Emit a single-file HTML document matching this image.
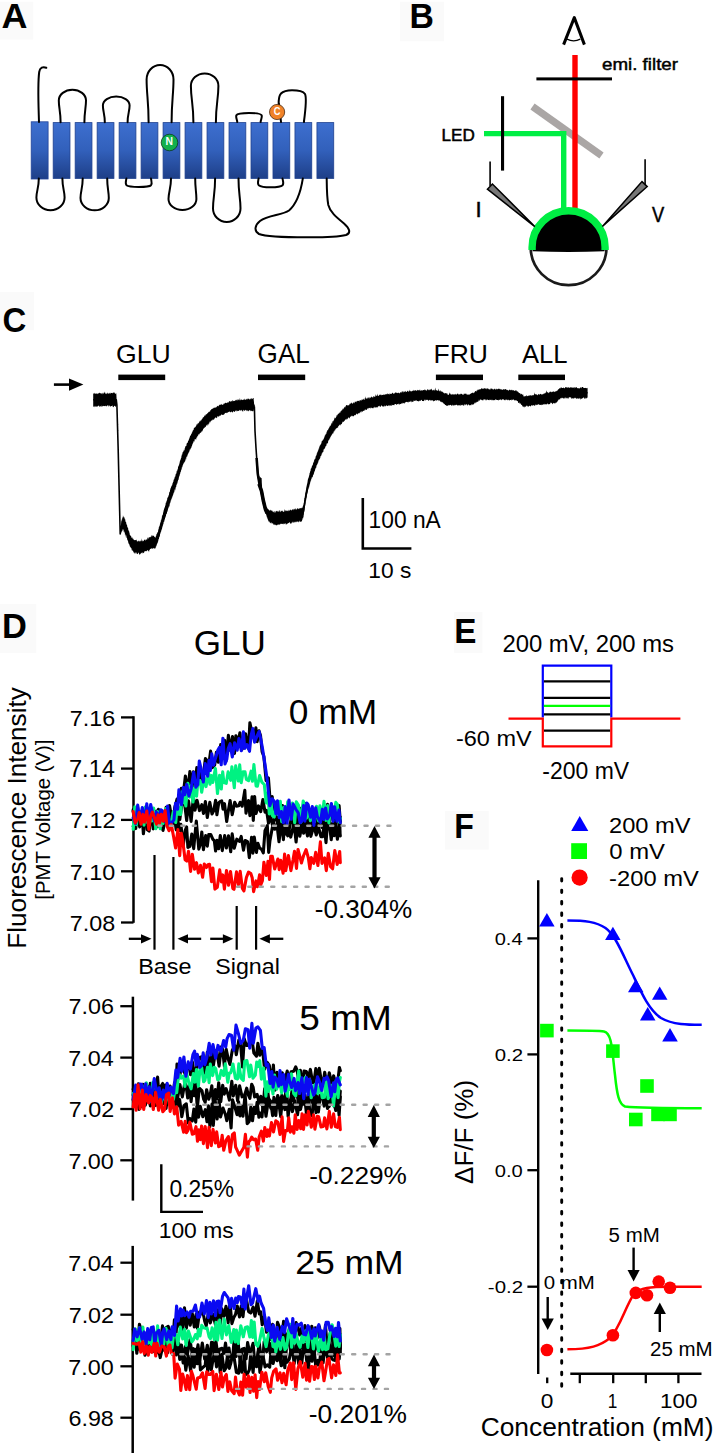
<!DOCTYPE html>
<html><head><meta charset="utf-8"><style>
html,body{margin:0;padding:0;background:#fff;}
svg{display:block;}
text{font-family:"Liberation Sans", sans-serif;}
</style></head><body>
<svg width="714" height="1453" viewBox="0 0 714 1453" font-family="&quot;Liberation Sans&quot;, sans-serif">
<defs>
<linearGradient id="tm" x1="0" y1="0" x2="0" y2="1">
<stop offset="0" stop-color="#3d6fcf"/><stop offset="0.5" stop-color="#3260bb"/><stop offset="1" stop-color="#1e3f88"/>
</linearGradient>
</defs>
<rect width="714" height="1453" fill="#fff"/>
<rect x="0" y="1.7" width="33.2" height="37.8" fill="#fafafa"/>
<text x="1.50" y="27.70" font-size="35.22" font-weight="bold" fill="#000" textLength="25.98" lengthAdjust="spacingAndGlyphs">A</text>
<rect x="400" y="1.7" width="43.9" height="39.5" fill="#fafafa"/>
<text x="409.60" y="27.70" font-size="35.51" font-weight="bold" fill="#000" textLength="24.39" lengthAdjust="spacingAndGlyphs">B</text>
<rect x="0" y="292" width="34.0" height="38.3" fill="#fafafa"/>
<text x="2.48" y="331.50" font-size="35.29" font-weight="bold" fill="#000" textLength="23.82" lengthAdjust="spacingAndGlyphs">C</text>
<rect x="0" y="604" width="36.3" height="49.0" fill="#fafafa"/>
<text x="2.06" y="637.60" font-size="34.64" font-weight="bold" fill="#000" textLength="24.89" lengthAdjust="spacingAndGlyphs">D</text>
<rect x="454.1" y="612.1" width="28.3" height="40.8" fill="#fafafa"/>
<text x="454.14" y="642.60" font-size="35.65" font-weight="bold" fill="#000" textLength="22.20" lengthAdjust="spacingAndGlyphs">E</text>
<rect x="445" y="810.9" width="43.7" height="38.6" fill="#fafafa"/>
<text x="454.31" y="838.20" font-size="35.36" font-weight="bold" fill="#000" textLength="19.64" lengthAdjust="spacingAndGlyphs">F</text>
<rect x="31.20" y="121.8" width="16.9" height="57.2" fill="url(#tm)" stroke="#23459a" stroke-width="0.8"/>
<rect x="53.18" y="122.6" width="16.8" height="55.8" fill="url(#tm)" stroke="#1f418f" stroke-width="0.8"/>
<rect x="75.16" y="122.6" width="16.8" height="55.8" fill="url(#tm)" stroke="#1f418f" stroke-width="0.8"/>
<rect x="97.14" y="122.6" width="16.8" height="55.8" fill="url(#tm)" stroke="#1f418f" stroke-width="0.8"/>
<rect x="119.12" y="122.6" width="16.8" height="55.8" fill="url(#tm)" stroke="#1f418f" stroke-width="0.8"/>
<rect x="141.10" y="122.6" width="16.8" height="55.8" fill="url(#tm)" stroke="#1f418f" stroke-width="0.8"/>
<rect x="163.08" y="122.6" width="16.8" height="55.8" fill="url(#tm)" stroke="#1f418f" stroke-width="0.8"/>
<rect x="185.06" y="122.6" width="16.8" height="55.8" fill="url(#tm)" stroke="#1f418f" stroke-width="0.8"/>
<rect x="207.04" y="122.6" width="16.8" height="55.8" fill="url(#tm)" stroke="#1f418f" stroke-width="0.8"/>
<rect x="229.02" y="122.6" width="16.8" height="55.8" fill="url(#tm)" stroke="#1f418f" stroke-width="0.8"/>
<rect x="251.00" y="122.6" width="16.8" height="55.8" fill="url(#tm)" stroke="#1f418f" stroke-width="0.8"/>
<rect x="272.98" y="122.6" width="16.8" height="55.8" fill="url(#tm)" stroke="#1f418f" stroke-width="0.8"/>
<rect x="294.96" y="122.6" width="16.8" height="55.8" fill="url(#tm)" stroke="#1f418f" stroke-width="0.8"/>
<rect x="316.94" y="122.6" width="16.8" height="55.8" fill="url(#tm)" stroke="#1f418f" stroke-width="0.8"/>
<path d="M39,122 C38.5,105 37.5,85 39.2,72 C39.8,67.5 43,66.5 46.3,67.8" fill="none" stroke="#000" stroke-width="2" stroke-linecap="round"/>
<path d="M60.6,122.3 C60.6,111.4 58.8,108.1 58.8,100.5 C58.8,94.5 64.9,89.7 72.4,89.7 C79.9,89.7 86.0,94.5 86.0,100.5 C86.0,108.1 84.4,111.4 84.4,122.3" fill="none" stroke="#000" stroke-width="2" stroke-linecap="round"/>
<path d="M104.8,122.3 C104.8,113.9 102.9,111.4 102.9,105.5 C102.9,100.5 108.9,96.5 116.2,96.5 C123.6,96.5 129.6,100.5 129.6,105.5 C129.6,111.4 127.6,113.9 127.6,122.3" fill="none" stroke="#000" stroke-width="2" stroke-linecap="round"/>
<path d="M148.6,122.3 C148.6,100.9 146.6,94.5 146.6,79.5 C146.6,71.5 152.6,65.0 160.1,65.0 C167.5,65.0 173.5,71.5 173.5,79.5 C173.5,94.5 171.6,100.9 171.6,122.3" fill="none" stroke="#000" stroke-width="2" stroke-linecap="round"/>
<path d="M193.4,122.3 C193.4,104.2 190.9,98.7 190.9,86.0 C190.9,79.0 197.1,73.4 204.7,73.4 C212.2,73.4 218.4,79.0 218.4,86.0 C218.4,98.7 215.9,104.2 215.9,122.3" fill="none" stroke="#000" stroke-width="2" stroke-linecap="round"/>
<path d="M237.3,122 C236.8,119 235.6,117 236.4,115.2 C237.5,113.2 243,113 249,113 C255,113 260.5,113.2 261.6,115.2 C262.4,117 261,119 260.6,122" fill="none" stroke="#000" stroke-width="2" stroke-linecap="round"/>
<path d="M281,122 L279,104" fill="none" stroke="#000" stroke-width="2" stroke-linecap="round"/>
<path d="M278.7,105 C278.5,100 278.6,96 281,93.5 C283.5,91 287,90.3 292,90.3 C298,90.3 303,91.2 305,94 C306.5,97 305.5,110 303.9,122" fill="none" stroke="#000" stroke-width="2" stroke-linecap="round"/>
<path d="M38.8,178.6 C38.8,188.1 36.4,190.9 36.4,197.5 C36.4,204.6 42.7,210.3 50.5,210.3 C58.3,210.3 64.6,204.6 64.6,197.5 C64.6,190.9 62.4,188.1 62.4,178.6" fill="none" stroke="#000" stroke-width="2" stroke-linecap="round"/>
<path d="M82.7,178.6 C82.7,188.3 80.5,191.2 80.5,198.0 C80.5,204.8 86.8,210.3 94.7,210.3 C102.5,210.3 108.8,204.8 108.8,198.0 C108.8,191.2 107.2,188.3 107.2,178.6" fill="none" stroke="#000" stroke-width="2" stroke-linecap="round"/>
<path d="M126.4,178.6 C126,181 125,183.5 126.5,185.2 C128.5,186.8 133,186.9 138.7,186.9 C144.5,186.9 149.5,186.8 151,185.2 C152.4,183.5 151.4,181 151,178.6" fill="none" stroke="#000" stroke-width="2" stroke-linecap="round"/>
<path d="M171.0,178.6 C171.0,188.8 168.5,191.9 168.5,199.0 C168.5,205.1 174.7,210.0 182.4,210.0 C190.2,210.0 196.4,205.1 196.4,199.0 C196.4,191.9 195.2,188.8 195.2,178.6" fill="none" stroke="#000" stroke-width="2" stroke-linecap="round"/>
<path d="M215.1,178.6 C215.1,193.6 213.0,198.0 213.0,208.5 C213.0,216.0 219.2,222.0 226.8,222.0 C234.3,222.0 240.5,216.0 240.5,208.5 C240.5,198.0 238.5,193.6 238.5,178.6" fill="none" stroke="#000" stroke-width="2" stroke-linecap="round"/>
<path d="M258.6,178.6 C258.2,181 257.2,183.5 258.7,185.2 C260.7,186.8 265,187.3 270.6,187.3 C276.4,187.3 281,186.8 282.6,185.2 C284,183.5 283,181 282.5,178.6" fill="none" stroke="#000" stroke-width="2" stroke-linecap="round"/>
<path d="M302.8,178.6 C301,190 297.5,203 289,210.5 C282,215.5 268,214.5 260,221 C255,225 253.5,231 259,234 C268,237.5 290,237.3 310,237.3 C325,237.3 340,236.5 346,235 C351,233 350,229 344,223.5 C336,217 330,212 328.3,205 C326.8,197 326.8,188 326.7,178.6" fill="none" stroke="#000" stroke-width="2" stroke-linecap="round"/>
<circle cx="169.5" cy="142.5" r="8.3" fill="#12b04c" stroke="#0a3a1a" stroke-width="0.8"/>
<text x="165.43" y="145.00" font-size="10.00" font-weight="bold" fill="#fff" textLength="7.47" lengthAdjust="spacingAndGlyphs">N</text>
<circle cx="277.1" cy="112" r="7.6" fill="#f08228" stroke="#4a2a10" stroke-width="0.8"/>
<text x="273.83" y="115.20" font-size="11.00" font-weight="bold" fill="#fff" textLength="6.73" lengthAdjust="spacingAndGlyphs">C</text>
<line x1="532.5" y1="106.5" x2="601.5" y2="155.5" stroke="#aaa6a5" stroke-width="7.2"/>
<path d="M484,133.6 H563.7 V212" fill="none" stroke="#00ee44" stroke-width="5.4"/>
<rect x="572.3" y="55" width="5.4" height="160" fill="#ff0000"/>
<rect x="536.4" y="77.4" width="75.6" height="3" fill="#000"/>
<rect x="501" y="96.2" width="3.1" height="74.4" fill="#000"/>
<path d="M563.6,44.6 L574.3,17.6 L584.4,44.6" fill="none" stroke="#000" stroke-width="3" stroke-linejoin="round"/>
<path d="M567,39.2 Q573.6,42.6 580.3,39.2" fill="none" stroke="#000" stroke-width="1.3"/>
<circle cx="568.6" cy="247.3" r="37.9" fill="#fff" stroke="#1a1a1a" stroke-width="2.7"/>
<path d="M532.6,251.3 L532.6,247.3 A36,36 0 0 1 604.6,247.3 L604.6,251.3 Q568.6,252.8 532.6,251.3 Z" fill="#000"/>
<path d="M532.1,249.9 L532.1,247.3 A36.5,36.5 0 0 1 605.1,247.3 L605.1,249.9" fill="none" stroke="#00ee44" stroke-width="7.4"/>
<line x1="490.1" y1="161.4" x2="490.1" y2="186" stroke="#000" stroke-width="1.6"/>
<path d="M487.4,189.2 L492.4,184 L534.8,226.6 Z" fill="#777" stroke="#000" stroke-width="1.5" stroke-linejoin="miter"/>
<line x1="645.1" y1="159.2" x2="645.1" y2="185" stroke="#000" stroke-width="1.6"/>
<path d="M642,181.6 L647.2,186.6 L602.4,226.4 Z" fill="#777" stroke="#000" stroke-width="1.5" stroke-linejoin="miter"/>
<text x="602.05" y="69.90" font-size="16.14" font-weight="normal" fill="#000" textLength="75.95" lengthAdjust="spacingAndGlyphs" stroke="#000" stroke-width="0.45">emi. filter</text>
<text x="441.53" y="140.60" font-size="16.38" font-weight="normal" fill="#000" textLength="33.24" lengthAdjust="spacingAndGlyphs" stroke="#000" stroke-width="0.5">LED</text>
<text x="475.61" y="216.60" font-size="22.32" font-weight="normal" fill="#000" textLength="6.14" lengthAdjust="spacingAndGlyphs" stroke="#000" stroke-width="0.5">I</text>
<text x="652.11" y="222.00" font-size="21.88" font-weight="normal" fill="#000" textLength="12.22" lengthAdjust="spacingAndGlyphs" stroke="#000" stroke-width="0.5">V</text>
<polygon points="93.20,393.09 93.64,393.94 94.09,392.78 94.53,393.23 94.98,394.23 95.42,393.54 95.87,393.44 96.31,394.10 96.75,392.92 97.20,394.19 97.64,393.62 98.09,393.37 98.53,393.54 98.97,393.22 99.42,392.91 99.86,392.47 100.31,393.84 100.75,393.10 101.20,393.00 101.64,393.82 102.08,394.42 102.53,392.43 102.97,393.81 103.42,393.78 103.86,392.60 104.31,393.23 104.75,391.48 105.19,392.84 105.64,394.36 106.08,392.98 106.53,393.66 106.97,394.24 107.42,393.07 107.86,392.52 108.30,394.00 108.75,393.13 109.19,393.81 109.64,392.90 110.08,392.42 110.53,393.98 110.97,392.72 111.41,393.08 111.86,393.03 112.30,392.74 112.75,393.55 113.19,392.87 113.63,392.62 114.08,392.24 114.52,392.68 114.97,393.62 115.41,393.44 115.86,394.12 116.30,392.99 116.35,394.74 116.40,394.66 116.45,396.60 116.50,397.11 116.55,398.27 116.60,398.98 116.65,400.32 116.70,401.23 116.75,401.81 116.80,402.80 116.85,403.83 116.90,404.77 116.91,405.26 116.93,405.67 116.94,406.16 116.95,406.55 116.96,407.02 116.98,407.47 116.99,407.89 117.00,408.35 117.02,408.79 117.03,409.28 117.04,409.71 117.05,410.17 117.07,410.61 117.08,411.06 117.09,411.46 117.11,411.95 117.12,412.39 117.13,412.82 117.14,413.24 117.16,413.68 117.17,414.14 117.18,414.62 117.20,415.04 117.21,415.48 117.22,415.97 117.23,416.37 117.25,416.84 117.26,417.27 117.27,417.71 117.29,418.16 117.30,418.61 117.31,419.05 117.32,419.52 117.34,419.95 117.35,420.42 117.36,420.84 117.38,421.28 117.39,421.71 117.40,422.18 117.41,422.65 117.43,423.07 117.44,423.53 117.45,423.94 117.47,424.41 117.48,424.86 117.49,425.27 117.50,425.75 117.52,426.20 117.53,426.64 117.54,427.08 117.56,427.55 117.57,427.97 117.58,428.39 117.60,428.86 117.61,429.29 117.62,429.72 117.63,430.17 117.65,430.63 117.66,431.07 117.67,431.51 117.69,431.99 117.70,432.42 117.71,432.88 117.72,433.33 117.74,433.76 117.75,434.22 117.76,434.64 117.78,435.09 117.79,435.57 117.80,435.99 117.81,436.44 117.83,436.87 117.84,437.35 117.85,437.79 117.87,438.22 117.88,438.67 117.89,439.10 117.90,439.56 117.92,440.02 117.93,440.42 117.94,440.91 117.96,441.36 117.97,441.79 117.98,442.24 117.99,442.69 118.01,443.11 118.02,443.53 118.03,444.03 118.05,444.46 118.06,444.89 118.07,445.32 118.08,445.76 118.10,446.26 118.11,446.68 118.12,447.10 118.14,447.60 118.15,448.01 118.16,448.48 118.17,448.89 118.19,449.33 118.20,449.80 118.21,450.28 118.22,450.72 118.23,451.15 118.24,451.57 118.25,452.05 118.26,452.47 118.27,452.94 118.29,453.39 118.30,453.81 118.31,454.28 118.32,454.73 118.33,455.15 118.34,455.61 118.35,456.04 118.36,456.50 118.37,456.98 118.38,457.40 118.39,457.82 118.40,458.29 118.41,458.71 118.42,459.23 118.44,459.65 118.45,460.06 118.46,460.51 118.47,460.97 118.48,461.41 118.49,461.84 118.50,462.30 118.51,462.76 118.52,463.21 118.53,463.64 118.54,464.12 118.55,464.54 118.56,464.99 118.57,465.42 118.59,465.90 118.60,466.38 118.61,466.78 118.62,467.20 118.63,467.67 118.64,468.12 118.65,468.59 118.66,469.04 118.67,469.45 118.68,469.96 118.69,470.33 118.70,470.78 118.71,471.21 118.72,471.74 118.73,472.19 118.75,472.56 118.76,473.06 118.77,473.52 118.78,473.95 118.79,474.37 118.80,474.87 118.81,475.28 118.82,475.71 118.83,476.15 118.84,476.67 118.85,477.04 118.86,477.52 118.87,477.97 118.88,478.41 118.90,478.88 118.91,479.26 118.92,479.78 118.93,480.20 118.94,480.68 118.95,481.08 118.96,481.50 118.97,481.94 118.98,482.48 118.99,482.87 119.00,483.28 119.01,483.81 119.02,484.23 119.03,484.65 119.04,485.09 119.06,485.57 119.07,486.00 119.08,486.44 119.09,486.92 119.10,487.33 119.11,487.79 119.12,488.22 119.13,488.69 119.14,489.16 119.15,489.60 119.16,489.98 119.17,490.52 119.18,490.97 119.19,491.44 119.21,491.78 119.22,492.21 119.23,492.75 119.24,493.20 119.25,493.65 119.26,494.05 119.27,494.51 119.28,494.91 119.29,495.44 119.30,495.80 119.31,496.30 119.32,496.70 119.33,497.15 119.34,497.58 119.36,498.08 119.37,498.51 119.38,498.97 119.39,499.47 119.40,499.87 119.41,500.26 119.42,500.71 119.43,501.28 119.44,501.64 119.45,502.13 119.46,502.61 119.47,503.05 119.48,503.40 119.49,503.83 119.50,504.34 119.52,504.81 119.53,505.23 119.54,505.63 119.55,506.09 119.56,506.64 119.57,507.07 119.58,507.41 119.59,507.92 119.60,508.34 119.61,508.77 119.62,509.24 119.63,509.67 119.64,510.15 119.65,510.64 119.67,511.10 119.68,511.42 119.69,512.02 119.70,512.36 119.71,512.77 119.72,513.33 119.73,513.80 119.74,514.19 119.75,514.65 119.76,515.08 119.77,515.53 119.78,515.89 119.79,516.47 119.80,516.78 119.81,517.38 119.83,517.68 119.84,518.23 119.85,518.61 119.86,519.18 119.87,519.55 119.88,519.96 119.89,520.41 119.90,520.83 119.91,521.39 119.92,521.79 119.93,522.20 119.94,522.75 119.95,523.06 119.96,523.58 119.98,524.06 119.99,524.51 120.00,524.88 120.01,525.43 120.02,525.85 120.03,526.28 120.04,526.74 120.05,527.10 120.06,527.57 120.07,527.96 120.08,528.45 120.09,528.97 120.10,529.41 120.11,529.89 120.13,530.32 120.14,530.70 120.15,531.12 120.16,531.65 120.17,532.09 120.18,532.45 120.19,532.87 120.20,533.48 120.26,532.81 120.33,531.88 120.39,531.26 120.45,530.59 120.51,529.75 120.58,528.94 120.64,528.76 120.70,527.29 120.76,526.54 120.83,526.36 120.89,525.60 120.95,525.13 121.01,524.02 121.08,523.84 121.14,522.66 121.20,521.35 121.36,521.40 121.53,520.26 121.69,520.80 121.85,518.93 122.02,519.76 122.18,519.01 122.35,517.42 122.51,517.68 122.67,517.49 122.84,516.99 123.00,514.84 123.18,516.95 123.37,517.24 123.55,515.63 123.73,516.37 123.92,517.67 124.10,517.15 124.28,517.30 124.47,517.86 124.65,518.50 124.83,519.18 125.02,519.57 125.20,518.93 125.34,520.39 125.49,521.80 125.63,522.25 125.78,521.54 125.92,521.68 126.06,522.35 126.21,522.54 126.35,523.94 126.49,524.21 126.64,524.88 126.78,525.08 126.92,524.11 127.07,524.98 127.21,526.86 127.36,527.17 127.50,526.55 127.65,527.66 127.80,528.22 127.95,527.36 128.10,527.97 128.25,529.79 128.40,530.37 128.55,530.13 128.70,530.41 128.85,531.31 129.00,531.26 129.15,531.54 129.30,531.71 129.45,533.28 129.60,532.94 129.75,534.53 129.90,534.95 130.05,535.41 130.20,535.74 130.45,534.79 130.71,535.92 130.96,536.01 131.21,536.43 131.47,537.24 131.72,537.89 131.97,537.96 132.23,536.96 132.48,538.32 132.73,538.49 132.99,539.14 133.24,538.52 133.49,538.93 133.75,539.90 134.00,539.99 134.43,540.30 134.86,540.04 135.29,540.09 135.71,540.22 136.14,539.65 136.57,539.65 137.00,541.55 137.43,540.99 137.86,541.76 138.29,541.18 138.71,540.41 139.14,540.75 139.57,541.07 140.00,542.13 140.40,540.55 140.80,540.83 141.20,541.33 141.60,538.30 142.00,541.61 142.40,541.20 142.80,539.89 143.20,541.23 143.60,540.94 144.00,540.10 144.40,539.57 144.80,539.69 145.20,540.63 145.60,540.05 146.00,539.10 146.38,539.57 146.75,539.64 147.12,539.79 147.50,537.75 147.88,537.53 148.25,539.03 148.62,537.82 149.00,536.89 149.38,537.08 149.75,537.68 150.12,536.73 150.50,537.56 150.88,536.58 151.25,536.82 151.62,535.37 152.00,535.16 152.44,535.52 152.88,536.42 153.31,535.74 153.75,535.54 154.19,536.83 154.62,536.68 155.06,537.47 155.50,537.69 155.67,536.23 155.83,537.01 156.00,535.68 156.17,536.15 156.33,534.81 156.50,534.28 156.67,533.58 156.83,534.15 157.00,533.77 157.17,533.37 157.33,532.47 157.50,531.96 157.67,532.70 157.83,531.97 158.00,532.04 158.12,531.30 158.24,530.03 158.36,529.25 158.48,528.74 158.60,529.84 158.71,528.84 158.83,527.60 158.95,526.83 159.07,527.61 159.19,526.44 159.31,525.86 159.43,526.65 159.55,525.58 159.67,525.78 159.79,525.28 159.90,524.24 160.02,524.28 160.14,522.88 160.26,523.21 160.38,523.10 160.50,521.87 160.63,522.07 160.76,521.97 160.88,519.86 161.01,520.86 161.14,520.50 161.27,519.43 161.40,519.84 161.53,517.97 161.65,518.81 161.78,518.43 161.91,516.28 162.04,516.65 162.17,515.44 162.29,515.05 162.42,514.90 162.55,515.76 162.68,514.16 162.81,514.79 162.94,514.45 163.06,512.42 163.19,512.99 163.32,511.70 163.45,511.66 163.58,510.72 163.71,510.55 163.83,509.45 163.96,509.96 164.09,508.78 164.22,508.39 164.35,508.39 164.47,508.10 164.60,507.80 164.73,506.92 164.86,507.36 164.99,506.43 165.12,505.56 165.24,505.79 165.37,505.52 165.50,505.29 165.64,503.46 165.78,502.89 165.91,502.55 166.05,502.38 166.19,502.16 166.32,502.85 166.46,500.75 166.60,501.15 166.74,500.30 166.88,501.02 167.01,499.33 167.15,500.12 167.29,498.04 167.43,498.12 167.56,498.06 167.70,497.39 167.84,496.97 167.97,496.85 168.11,497.27 168.25,496.45 168.39,496.01 168.53,495.84 168.66,494.90 168.80,495.20 168.94,494.85 169.07,493.79 169.21,492.01 169.35,492.13 169.49,492.32 169.62,492.37 169.76,492.11 169.90,491.07 170.04,490.16 170.18,489.37 170.31,489.70 170.45,488.47 170.59,488.13 170.72,487.62 170.86,488.27 171.00,487.57 171.15,485.87 171.31,486.48 171.46,487.19 171.61,485.88 171.76,486.10 171.91,485.03 172.07,485.22 172.22,485.18 172.37,483.88 172.53,483.45 172.68,482.79 172.83,483.24 172.98,482.04 173.13,482.04 173.29,482.07 173.44,480.97 173.59,480.01 173.75,480.35 173.90,479.08 174.05,478.50 174.20,479.69 174.35,478.85 174.51,478.29 174.66,477.23 174.81,477.03 174.97,476.44 175.12,477.05 175.27,476.18 175.42,476.03 175.57,474.39 175.73,474.10 175.88,474.47 176.03,472.86 176.19,473.98 176.34,473.80 176.49,472.64 176.64,471.61 176.79,470.61 176.95,471.10 177.10,471.46 177.23,470.08 177.36,470.87 177.49,468.78 177.62,469.39 177.75,469.43 177.88,468.91 178.01,467.08 178.14,466.49 178.27,467.58 178.40,465.46 178.53,465.33 178.66,466.01 178.79,466.17 178.92,465.55 179.05,464.53 179.18,464.59 179.31,464.22 179.44,463.61 179.57,461.93 179.70,463.26 179.83,461.00 179.96,461.57 180.09,460.54 180.22,460.60 180.35,459.27 180.48,460.44 180.61,459.87 180.74,458.92 180.87,458.50 181.00,458.45 181.13,458.08 181.26,458.11 181.39,456.84 181.52,455.73 181.65,455.24 181.78,455.76 181.91,454.16 182.04,453.77 182.17,454.70 182.30,454.70 182.49,452.79 182.67,452.16 182.86,452.36 183.04,451.30 183.23,451.90 183.41,450.04 183.60,451.92 183.78,450.89 183.97,449.33 184.15,450.63 184.34,450.15 184.52,449.95 184.71,448.58 184.90,447.95 185.08,447.69 185.27,446.56 185.45,446.56 185.64,446.24 185.82,445.90 186.01,445.69 186.19,446.18 186.38,445.72 186.56,444.18 186.75,442.89 186.93,443.83 187.12,442.94 187.30,442.63 187.49,442.96 187.68,442.50 187.86,442.35 188.05,440.86 188.23,440.33 188.42,441.14 188.60,440.45 188.79,440.29 188.97,438.92 189.16,439.16 189.34,437.56 189.53,438.41 189.71,437.21 189.90,436.82 190.08,435.79 190.26,435.86 190.44,435.03 190.62,435.36 190.80,436.17 190.99,435.12 191.17,433.87 191.35,434.30 191.53,433.26 191.71,433.98 191.89,432.50 192.07,432.65 192.25,431.11 192.43,432.51 192.61,431.53 192.80,430.31 192.98,430.68 193.16,430.15 193.34,430.02 193.52,430.10 193.70,429.26 193.97,427.80 194.25,427.69 194.52,428.27 194.80,427.21 195.07,426.63 195.35,426.28 195.62,427.42 195.90,426.87 196.18,424.96 196.45,425.96 196.72,423.66 197.00,424.59 197.28,423.78 197.55,425.00 197.82,422.99 198.10,422.77 198.38,423.67 198.65,422.41 198.93,423.45 199.20,421.44 199.48,421.98 199.75,421.01 200.03,420.57 200.30,421.71 200.59,419.75 200.88,420.91 201.17,420.49 201.47,419.60 201.76,419.66 202.05,418.59 202.34,419.14 202.63,417.99 202.92,417.41 203.21,416.71 203.50,417.45 203.80,417.34 204.09,416.47 204.38,416.01 204.67,415.18 204.96,415.49 205.25,415.45 205.54,415.39 205.83,414.27 206.13,414.11 206.42,414.84 206.71,414.09 207.00,414.02 207.33,413.14 207.67,413.07 208.00,413.21 208.33,412.26 208.67,411.75 209.00,412.06 209.33,410.89 209.67,411.94 210.00,411.75 210.33,410.30 210.67,410.29 211.00,409.68 211.33,409.08 211.67,409.57 212.00,408.75 212.33,408.78 212.67,408.75 213.00,408.49 213.38,407.44 213.75,408.38 214.13,408.05 214.51,407.77 214.88,407.29 215.26,408.10 215.64,406.88 216.01,407.75 216.39,406.96 216.76,406.66 217.14,406.25 217.52,406.05 217.89,405.80 218.27,406.59 218.65,405.88 219.02,404.99 219.40,405.34 219.82,404.50 220.23,404.83 220.65,404.64 221.07,404.31 221.49,403.65 221.90,405.15 222.32,404.81 222.74,404.71 223.16,404.36 223.57,404.53 223.99,402.75 224.41,404.01 224.83,403.32 225.24,402.49 225.66,403.03 226.08,403.26 226.50,403.03 226.91,402.67 227.33,402.71 227.75,402.29 228.17,402.24 228.58,402.65 229.00,401.18 229.43,400.94 229.87,401.53 230.30,402.23 230.74,400.79 231.17,401.62 231.61,400.75 232.04,401.63 232.48,400.42 232.91,399.93 233.35,401.31 233.78,401.11 234.22,400.94 234.65,400.93 235.09,400.35 235.52,399.80 235.96,401.25 236.39,399.81 236.83,399.72 237.26,400.71 237.70,399.34 238.13,399.43 238.57,399.61 239.00,400.57 239.44,399.95 239.88,397.94 240.33,399.69 240.77,400.50 241.21,399.25 241.65,399.82 242.10,400.11 242.54,399.85 242.98,400.24 243.42,399.75 243.87,399.32 244.31,398.54 244.75,400.04 245.19,399.64 245.64,399.67 246.08,399.34 246.52,399.52 246.96,398.49 247.41,399.72 247.85,398.20 248.29,399.27 248.73,398.14 249.18,399.30 249.62,399.73 250.06,398.29 250.50,399.52 250.95,398.38 251.39,398.08 251.83,399.29 252.27,399.06 252.72,398.56 253.16,397.93 253.60,397.92 253.73,399.97 253.87,401.21 254.00,402.34 254.13,404.24 254.27,405.18 254.40,406.67 254.41,407.17 254.42,407.57 254.43,408.01 254.44,408.46 254.46,408.96 254.47,409.40 254.48,409.83 254.49,410.28 254.50,410.68 254.51,411.10 254.52,411.56 254.53,411.97 254.54,412.45 254.56,412.90 254.57,413.38 254.58,413.73 254.59,414.21 254.60,414.62 254.61,415.06 254.62,415.60 254.63,415.98 254.64,416.44 254.66,416.85 254.67,417.37 254.68,417.75 254.69,418.20 254.70,418.66 254.71,419.13 254.72,419.51 254.73,420.03 254.74,420.44 254.76,420.92 254.77,421.33 254.78,421.78 254.79,422.18 254.80,422.61 254.81,423.05 254.82,423.53 254.83,423.93 254.84,424.38 254.86,424.84 254.87,425.26 254.88,425.67 254.89,426.18 254.90,426.56 254.91,427.04 254.92,427.52 254.93,427.95 254.94,428.37 254.96,428.85 254.97,429.22 254.98,429.73 254.99,430.14 255.00,430.55 255.03,431.00 255.05,431.47 255.08,431.91 255.11,432.35 255.13,432.81 255.16,433.28 255.18,433.66 255.21,434.20 255.24,434.65 255.26,435.07 255.29,435.53 255.32,435.87 255.34,436.38 255.37,436.77 255.39,437.26 255.42,437.76 255.45,438.11 255.47,438.55 255.50,439.10 255.53,439.46 255.55,439.93 255.58,440.43 255.61,440.85 255.63,441.24 255.66,441.77 255.68,442.15 255.71,442.60 255.74,443.05 255.76,443.55 255.79,443.89 255.82,444.38 255.84,444.80 255.87,445.26 255.89,445.75 255.92,446.13 255.95,446.63 255.97,446.99 256.00,447.51 256.03,447.99 256.06,448.39 256.09,448.85 256.12,449.20 256.16,449.75 256.19,450.09 256.22,450.68 256.25,451.11 256.28,451.52 256.31,451.89 256.34,452.36 256.37,452.83 256.40,453.28 256.43,453.64 256.47,454.20 256.50,454.54 256.53,455.06 256.56,455.44 256.59,455.86 256.62,456.38 256.65,456.86 256.68,457.30 256.71,457.74 256.74,458.22 256.78,458.59 256.81,458.99 256.84,459.49 256.87,459.81 256.90,460.26 256.93,460.74 256.96,461.17 256.99,461.72 257.02,462.07 257.06,462.66 257.09,463.11 257.12,463.55 257.15,463.94 257.18,464.29 257.21,464.89 257.24,465.25 257.27,465.65 257.30,466.03 257.33,466.54 257.37,467.06 257.40,467.54 257.43,467.88 257.46,468.25 257.49,468.69 257.52,469.18 257.55,469.73 257.58,470.20 257.61,470.65 257.64,471.04 257.68,471.42 257.71,471.96 257.74,472.28 257.77,472.80 257.80,473.13 257.87,473.61 257.95,473.96 258.02,474.52 258.10,474.85 258.17,475.18 258.24,475.84 258.32,475.99 258.39,476.51 258.47,476.80 258.54,477.44 258.61,477.79 258.69,478.15 258.76,478.60 258.83,479.00 258.91,479.34 258.98,479.99 259.06,480.22 259.13,480.73 259.20,480.98 259.28,481.38 259.35,481.99 259.43,482.44 259.50,482.65 259.62,483.02 259.74,483.47 259.85,483.80 259.97,484.17 260.09,484.75 260.21,485.19 260.32,485.71 260.44,485.93 260.56,486.42 260.68,486.58 260.79,487.02 260.91,487.25 261.03,487.76 261.15,488.36 261.26,488.69 261.38,489.01 261.50,489.38 261.58,489.58 261.66,490.14 261.75,490.71 261.83,491.14 261.91,491.38 261.99,492.06 262.07,492.26 262.15,492.41 262.24,492.79 262.32,493.41 262.40,493.82 262.48,494.36 262.56,494.60 262.65,495.09 262.73,495.37 262.81,495.58 262.89,496.11 262.97,496.92 263.05,495.38 263.14,497.36 263.22,497.57 263.30,498.23 263.40,498.42 263.51,499.20 263.61,499.60 263.72,499.39 263.82,499.83 263.93,500.54 264.03,500.60 264.14,501.11 264.24,501.35 264.35,501.89 264.45,502.16 264.56,502.28 264.66,503.13 264.77,503.20 264.87,503.34 264.98,504.64 265.08,504.79 265.19,505.05 265.29,505.19 265.40,505.68 265.50,505.50 265.70,506.60 265.90,506.70 266.10,507.24 266.30,507.36 266.50,507.03 266.70,508.05 266.90,506.97 267.10,507.47 267.30,508.76 267.50,507.85 267.70,509.21 267.90,508.77 268.10,509.55 268.30,509.88 268.50,509.44 268.89,508.92 269.27,510.63 269.66,510.55 270.05,510.17 270.43,509.40 270.82,510.73 271.21,509.88 271.59,510.70 271.98,511.04 272.37,510.56 272.75,511.89 273.14,511.36 273.53,512.55 273.91,511.69 274.30,510.85 274.74,512.76 275.18,512.66 275.63,511.62 276.07,510.82 276.51,511.57 276.95,510.68 277.39,511.99 277.84,510.53 278.28,512.13 278.72,510.91 279.16,510.03 279.60,510.70 280.05,512.32 280.49,511.70 280.93,510.39 281.37,510.66 281.81,511.22 282.25,511.40 282.70,510.18 283.14,511.69 283.58,511.66 284.02,511.88 284.46,510.59 284.91,509.11 285.35,511.61 285.79,510.27 286.23,510.22 286.67,511.33 287.12,510.64 287.56,510.49 288.00,511.51 288.44,509.60 288.88,511.18 289.31,511.07 289.75,509.85 290.19,510.18 290.62,509.51 291.06,509.71 291.50,510.76 291.94,509.94 292.38,508.77 292.81,510.07 293.25,510.24 293.69,508.71 294.12,509.17 294.56,509.52 295.00,508.23 295.44,508.42 295.88,509.84 296.31,509.85 296.75,508.95 297.19,508.45 297.62,508.10 298.06,509.28 298.50,508.73 298.94,508.59 299.38,508.81 299.81,507.95 300.25,508.16 300.69,508.33 301.12,507.51 301.56,508.40 302.00,507.69 302.17,507.06 302.33,507.69 302.50,508.02 302.67,507.80 302.83,506.02 303.00,505.71 303.17,505.64 303.33,505.23 303.50,505.93 303.57,504.29 303.63,504.55 303.70,504.36 303.76,502.99 303.83,502.58 303.89,503.40 303.96,502.17 304.02,501.58 304.09,501.10 304.16,500.57 304.22,500.43 304.29,501.17 304.35,500.34 304.42,500.10 304.48,498.94 304.55,498.67 304.62,497.54 304.68,498.34 304.75,498.11 304.81,497.84 304.88,497.14 304.94,495.57 305.01,495.61 305.08,495.79 305.14,494.83 305.21,494.29 305.27,494.38 305.34,492.78 305.40,492.94 305.47,492.71 305.53,493.09 305.60,492.00 305.69,492.11 305.78,491.23 305.86,490.25 305.95,490.01 306.04,490.00 306.13,488.83 306.22,489.21 306.30,488.10 306.39,488.24 306.48,487.22 306.57,486.86 306.66,486.36 306.74,485.50 306.83,485.09 306.92,484.36 307.01,485.16 307.10,483.43 307.18,483.51 307.27,483.93 307.36,483.73 307.45,482.87 307.54,482.05 307.62,481.28 307.71,480.39 307.80,480.01 307.91,479.45 308.03,479.10 308.14,478.68 308.25,478.06 308.36,478.04 308.48,478.65 308.59,477.49 308.70,477.29 308.81,476.46 308.93,476.72 309.04,475.18 309.15,475.88 309.26,475.15 309.38,475.23 309.49,473.48 309.60,473.10 309.71,472.58 309.82,473.45 309.94,472.82 310.05,471.36 310.16,471.00 310.27,471.94 310.39,470.89 310.50,471.20 310.66,469.39 310.82,468.95 310.98,468.35 311.14,468.16 311.30,468.45 311.45,468.11 311.61,467.19 311.77,467.19 311.93,465.80 312.09,466.28 312.25,465.88 312.41,464.51 312.57,465.40 312.73,464.86 312.89,464.90 313.05,462.92 313.20,463.25 313.36,462.97 313.52,461.73 313.68,461.27 313.84,462.16 314.00,461.90 314.16,460.06 314.32,459.49 314.48,459.84 314.64,458.56 314.80,459.96 314.96,458.65 315.12,458.99 315.28,458.47 315.44,458.18 315.60,456.85 315.76,456.35 315.92,456.20 316.08,455.23 316.24,456.00 316.40,455.29 316.56,454.96 316.72,453.91 316.88,452.94 317.04,453.68 317.20,451.88 317.36,452.50 317.52,452.36 317.68,451.83 317.84,450.42 318.00,451.45 318.18,450.23 318.36,450.08 318.55,449.21 318.73,449.07 318.91,447.82 319.09,448.71 319.27,446.75 319.45,447.11 319.64,446.01 319.82,445.54 320.00,445.80 320.18,444.80 320.36,445.34 320.55,445.16 320.73,443.77 320.91,444.28 321.09,444.00 321.27,443.18 321.45,442.91 321.64,441.44 321.82,441.14 322.00,441.07 322.20,440.34 322.40,441.18 322.60,440.76 322.80,440.20 323.00,439.32 323.20,440.01 323.40,439.47 323.60,438.78 323.80,438.67 324.00,437.98 324.20,437.86 324.40,437.09 324.60,436.42 324.80,435.81 325.00,434.92 325.20,435.50 325.40,434.92 325.60,433.59 325.80,434.82 326.00,433.47 326.20,433.85 326.41,433.66 326.61,431.60 326.82,431.64 327.02,431.63 327.23,430.59 327.43,429.92 327.64,430.25 327.84,430.11 328.05,430.59 328.25,428.39 328.45,428.33 328.66,429.23 328.86,428.19 329.07,428.19 329.27,426.46 329.48,427.31 329.68,427.23 329.89,425.39 330.09,426.15 330.30,426.10 330.50,425.84 330.74,425.29 330.98,424.41 331.21,424.41 331.45,423.23 331.69,422.47 331.93,423.54 332.17,423.39 332.40,421.64 332.64,421.47 332.88,420.72 333.12,421.80 333.36,420.33 333.60,420.78 333.83,420.60 334.07,419.87 334.31,418.61 334.55,418.32 334.79,416.98 335.02,418.70 335.26,417.95 335.50,418.12 335.79,417.70 336.08,416.16 336.37,417.25 336.66,415.34 336.95,414.91 337.24,415.60 337.53,414.95 337.82,413.89 338.11,414.03 338.39,413.56 338.68,413.31 338.97,414.35 339.26,412.55 339.55,412.38 339.84,412.77 340.13,413.04 340.42,411.57 340.71,411.33 341.00,411.39 341.32,410.62 341.63,410.69 341.95,409.76 342.26,408.95 342.58,410.56 342.89,408.25 343.21,408.28 343.53,409.62 343.84,408.39 344.16,407.35 344.47,407.29 344.79,407.62 345.11,405.56 345.42,407.75 345.74,406.44 346.05,405.44 346.37,405.12 346.68,405.05 347.00,405.21 347.40,405.60 347.80,405.37 348.20,405.45 348.60,404.95 349.00,405.50 349.40,404.38 349.80,403.52 350.20,404.34 350.60,403.06 351.00,403.55 351.40,402.91 351.80,402.31 352.20,404.04 352.60,403.25 353.00,403.61 353.41,402.47 353.82,402.17 354.24,403.51 354.65,402.14 355.06,401.34 355.47,402.21 355.88,401.53 356.29,402.52 356.71,401.12 357.12,400.94 357.53,401.18 357.94,400.38 358.35,400.97 358.76,400.74 359.18,401.72 359.59,400.02 360.00,400.80 360.40,399.99 360.80,400.24 361.20,400.74 361.60,399.99 362.00,398.99 362.40,399.38 362.80,400.25 363.20,399.31 363.60,398.51 364.00,399.98 364.40,399.88 364.80,398.25 365.20,398.53 365.60,396.29 366.00,398.73 366.40,398.17 366.80,398.76 367.20,398.67 367.63,397.81 368.05,397.18 368.48,397.62 368.91,398.45 369.33,398.38 369.76,396.94 370.19,397.54 370.61,397.74 371.04,397.53 371.47,396.25 371.89,396.94 372.32,397.44 372.75,397.27 373.17,397.38 373.60,395.71 374.03,396.48 374.45,396.39 374.88,396.98 375.31,396.50 375.73,394.34 376.16,395.29 376.59,395.89 377.01,396.09 377.44,393.51 377.87,395.82 378.29,395.81 378.72,395.94 379.15,395.22 379.57,394.49 380.00,394.96 380.44,394.37 380.88,395.22 381.32,394.52 381.76,395.38 382.20,394.83 382.64,395.05 383.08,395.01 383.52,394.13 383.97,395.06 384.41,394.49 384.85,394.70 385.29,393.70 385.73,394.84 386.17,394.58 386.61,393.87 387.05,394.57 387.49,393.73 387.93,393.22 388.37,394.30 388.81,393.93 389.25,394.83 389.69,393.35 390.13,394.08 390.58,393.60 391.02,394.29 391.46,393.39 391.90,393.65 392.34,392.69 392.78,392.72 393.22,393.37 393.66,394.06 394.10,393.79 394.54,393.25 394.97,392.70 395.41,392.46 395.84,392.41 396.28,392.53 396.72,393.05 397.15,392.76 397.59,393.27 398.02,392.65 398.46,392.91 398.90,392.51 399.33,393.38 399.77,393.21 400.20,392.11 400.64,392.45 401.08,392.75 401.51,391.33 401.95,392.98 402.38,391.24 402.82,391.34 403.26,392.79 403.69,391.14 404.13,391.35 404.56,392.17 405.00,391.27 405.44,390.76 405.88,392.25 406.33,391.78 406.77,392.01 407.21,390.64 407.65,390.63 408.10,391.87 408.54,391.82 408.98,390.45 409.42,391.51 409.87,389.40 410.31,391.67 410.75,390.87 411.19,391.38 411.63,391.23 412.08,391.17 412.52,390.45 412.96,390.98 413.40,390.71 413.85,389.75 414.29,390.13 414.73,391.09 415.17,390.58 415.62,389.93 416.06,390.38 416.50,390.69 416.94,390.67 417.37,390.23 417.81,389.78 418.24,390.02 418.68,390.41 419.11,390.55 419.55,390.29 419.98,389.31 420.42,390.65 420.85,390.66 421.29,390.63 421.73,389.83 422.16,390.71 422.60,390.24 423.03,390.23 423.47,390.03 423.90,390.00 424.34,389.31 424.77,390.21 425.21,390.44 425.65,389.38 426.08,390.32 426.52,390.45 426.95,390.65 427.39,389.07 427.82,389.56 428.26,389.61 428.69,390.50 429.13,389.26 429.56,390.54 430.00,389.48 430.43,389.28 430.86,389.92 431.29,388.44 431.71,389.13 432.14,390.70 432.57,390.35 433.00,389.81 433.43,389.81 433.86,390.57 434.29,390.46 434.71,390.27 435.14,387.41 435.57,389.37 436.00,390.85 436.43,389.66 436.86,390.42 437.29,390.69 437.71,390.42 438.14,391.06 438.57,388.46 439.00,390.08 439.36,390.98 439.73,391.50 440.09,390.52 440.45,390.31 440.82,391.87 441.18,390.65 441.55,391.52 441.91,392.22 442.27,391.52 442.64,391.68 443.00,392.54 443.36,392.36 443.73,393.14 444.09,392.70 444.45,393.54 444.82,393.44 445.18,392.89 445.55,393.06 445.91,393.47 446.27,393.23 446.64,393.63 447.00,392.73 447.45,394.00 447.90,394.95 448.34,395.10 448.79,394.75 449.24,392.23 449.69,393.44 450.14,394.80 450.59,393.46 451.03,393.74 451.48,394.89 451.93,394.23 452.38,394.72 452.83,393.87 453.28,394.56 453.72,394.49 454.17,394.18 454.62,394.66 455.07,393.79 455.52,394.11 455.97,395.09 456.41,394.18 456.86,394.41 457.31,393.54 457.76,393.50 458.21,395.07 458.66,393.83 459.10,394.09 459.55,394.30 460.00,394.98 460.44,393.58 460.89,394.00 461.33,394.00 461.78,393.40 462.22,394.86 462.67,394.37 463.11,394.97 463.56,394.51 464.00,393.22 464.44,394.29 464.89,393.48 465.33,393.39 465.78,393.94 466.22,393.40 466.67,394.47 467.11,394.70 467.56,394.45 468.00,394.62 468.44,394.59 468.89,394.66 469.33,394.60 469.78,394.51 470.22,393.70 470.67,394.12 471.11,392.86 471.56,393.49 472.00,392.92 472.35,393.07 472.70,392.57 473.05,392.27 473.40,393.06 473.75,393.13 474.10,393.19 474.45,391.40 474.80,392.49 475.15,390.95 475.50,391.19 475.85,390.78 476.20,391.91 476.55,390.08 476.90,391.31 477.25,389.75 477.60,390.87 477.95,388.97 478.30,390.31 478.65,389.87 479.00,389.09 479.43,389.53 479.86,389.58 480.29,389.07 480.71,389.56 481.14,388.57 481.57,388.23 482.00,388.60 482.44,388.50 482.88,389.09 483.32,388.70 483.76,388.44 484.20,387.91 484.63,388.66 485.07,387.86 485.51,388.92 485.95,388.57 486.39,388.36 486.83,389.49 487.27,388.22 487.71,388.24 488.15,389.51 488.59,388.58 489.02,389.02 489.46,389.45 489.90,389.40 490.34,389.56 490.78,388.19 491.22,388.39 491.66,388.56 492.10,389.55 492.54,388.60 492.98,389.43 493.41,389.03 493.85,389.89 494.29,388.36 494.73,389.36 495.17,388.78 495.61,389.78 496.05,389.67 496.49,388.72 496.93,388.83 497.37,389.01 497.80,389.40 498.24,389.00 498.68,388.56 499.12,388.71 499.56,388.79 500.00,389.39 500.44,389.41 500.88,388.69 501.32,389.77 501.76,389.37 502.19,389.93 502.63,389.57 503.07,389.95 503.51,388.91 503.95,388.90 504.39,389.83 504.83,389.16 505.27,389.17 505.71,389.08 506.14,389.34 506.58,390.21 507.02,389.57 507.46,390.20 507.90,389.89 508.34,390.60 508.78,390.68 509.22,389.28 509.66,390.03 510.09,390.01 510.53,389.82 510.97,390.81 511.41,389.85 511.85,389.77 512.29,390.85 512.73,389.69 513.17,390.20 513.61,390.22 514.04,390.57 514.48,391.00 514.92,390.79 515.36,390.84 515.80,389.95 516.14,390.45 516.47,390.18 516.81,391.60 517.15,390.90 517.48,391.31 517.82,391.88 518.15,391.71 518.49,392.81 518.83,392.15 519.16,393.13 519.50,392.94 519.83,392.99 520.15,393.96 520.48,393.01 520.80,394.66 521.12,393.63 521.45,393.77 521.77,394.29 522.10,394.06 522.42,394.83 522.75,395.36 523.07,393.91 523.40,395.76 523.84,396.68 524.28,395.89 524.72,396.63 525.16,395.79 525.60,396.43 526.04,395.73 526.48,395.12 526.92,396.38 527.36,395.76 527.80,396.19 528.24,395.68 528.68,395.52 529.12,396.07 529.56,395.48 530.00,394.80 530.43,395.13 530.87,395.68 531.30,395.16 531.74,395.79 532.17,395.54 532.61,395.01 533.04,395.44 533.48,394.74 533.91,395.43 534.35,392.33 534.78,394.15 535.22,394.13 535.65,394.21 536.09,394.44 536.52,393.96 536.96,395.19 537.39,395.27 537.83,394.75 538.26,393.65 538.70,394.46 539.13,394.27 539.57,394.73 540.00,394.21 540.43,393.77 540.86,394.00 541.29,394.79 541.71,394.17 542.14,394.01 542.57,394.39 543.00,394.44 543.43,393.21 543.86,394.30 544.29,393.74 544.71,393.08 545.14,392.68 545.57,393.50 546.00,391.84 546.43,390.23 546.86,392.51 547.29,392.25 547.71,392.32 548.14,392.17 548.57,393.21 549.00,393.02 549.43,391.55 549.86,392.53 550.29,391.86 550.71,391.59 551.14,391.85 551.57,392.60 552.00,391.56 552.44,391.68 552.89,391.93 553.33,391.56 553.78,391.25 554.22,392.20 554.67,391.46 555.11,391.73 555.56,391.07 556.00,391.64 556.33,390.95 556.67,390.69 557.00,391.07 557.33,390.72 557.67,389.93 558.00,389.66 558.33,388.94 558.67,389.27 559.00,389.19 559.36,388.24 559.71,387.99 560.07,388.49 560.43,388.30 560.79,387.28 561.14,387.99 561.50,386.96 561.94,388.03 562.37,388.06 562.81,387.88 563.24,387.53 563.68,387.76 564.11,388.04 564.55,388.25 564.98,388.29 565.42,386.92 565.85,387.11 566.29,387.13 566.73,387.39 567.16,387.52 567.60,387.70 568.03,387.33 568.47,387.77 568.90,387.04 569.34,388.11 569.77,387.75 570.21,387.23 570.65,387.58 571.08,387.29 571.52,387.33 571.95,387.94 572.39,387.87 572.82,387.24 573.26,387.95 573.69,387.03 574.13,388.50 574.56,387.09 575.00,387.20 575.43,387.33 575.87,388.35 576.30,387.21 576.74,386.98 577.17,388.05 577.61,388.36 578.04,388.32 578.48,388.14 578.91,388.15 579.34,388.44 579.78,388.20 580.21,387.94 580.65,387.29 581.08,386.88 581.52,388.52 581.95,387.00 582.39,387.02 582.82,386.88 583.26,387.67 583.69,387.86 584.12,388.12 584.56,387.99 584.99,388.05 585.43,388.03 585.86,387.76 586.30,388.34 586.73,388.23 587.17,387.71 587.60,388.39 587.60,397.70 587.17,397.57 586.73,398.85 586.30,397.96 585.86,397.43 585.43,398.49 584.99,399.01 584.56,398.74 584.12,397.81 583.69,397.86 583.26,397.31 582.82,398.42 582.39,398.01 581.95,398.83 581.52,398.46 581.08,398.90 580.65,399.79 580.21,398.35 579.78,397.69 579.34,398.81 578.91,398.97 578.48,398.21 578.04,398.63 577.61,398.22 577.17,398.39 576.74,398.49 576.30,398.90 575.87,397.77 575.43,397.65 575.00,398.67 574.56,397.46 574.13,398.21 573.69,398.56 573.26,398.46 572.82,398.06 572.39,398.41 571.95,398.76 571.52,398.69 571.08,397.55 570.65,397.32 570.21,397.62 569.77,397.37 569.34,397.36 568.90,397.24 568.47,398.59 568.03,398.85 567.60,397.48 567.16,398.85 566.73,398.48 566.29,397.39 565.85,398.78 565.42,397.51 564.98,397.22 564.55,398.39 564.11,398.44 563.68,398.64 563.24,398.00 562.81,398.17 562.37,397.54 561.94,398.61 561.50,397.45 561.14,398.47 560.79,398.14 560.43,398.04 560.07,399.42 559.71,399.42 559.36,398.97 559.00,399.73 558.67,399.33 558.33,400.21 558.00,400.39 557.67,400.97 557.33,401.68 557.00,401.90 556.67,402.59 556.33,402.42 556.00,402.91 555.56,402.57 555.11,403.73 554.67,403.60 554.22,402.99 553.78,403.27 553.33,402.86 552.89,404.06 552.44,404.15 552.00,403.07 551.57,403.14 551.14,402.50 550.71,402.55 550.29,403.52 549.86,404.04 549.43,404.29 549.00,403.97 548.57,404.37 548.14,404.54 547.71,402.96 547.29,404.36 546.86,404.01 546.43,404.52 546.00,404.43 545.57,404.02 545.14,404.56 544.71,404.81 544.29,403.69 543.86,403.93 543.43,404.76 543.00,404.35 542.57,405.06 542.14,404.85 541.71,404.61 541.29,405.17 540.86,405.06 540.43,404.96 540.00,404.51 539.57,404.81 539.13,404.92 538.70,404.24 538.26,404.26 537.83,404.47 537.39,404.80 536.96,405.13 536.52,405.06 536.09,404.46 535.65,404.40 535.22,405.40 534.78,405.50 534.35,405.88 533.91,405.05 533.48,405.54 533.04,404.90 532.61,405.86 532.17,405.59 531.74,404.88 531.30,405.48 530.87,406.44 530.43,406.23 530.00,406.08 529.56,405.95 529.12,405.46 528.68,406.75 528.24,406.61 527.80,406.73 527.36,405.68 526.92,405.78 526.48,405.61 526.04,406.56 525.60,407.13 525.16,406.06 524.72,406.45 524.28,407.62 523.84,407.26 523.40,406.21 523.07,406.81 522.75,406.59 522.42,406.19 522.10,405.16 521.77,404.45 521.45,405.11 521.12,404.94 520.80,403.65 520.48,403.99 520.15,402.87 519.83,403.67 519.50,403.47 519.16,402.03 518.83,403.04 518.49,402.90 518.15,402.69 517.82,400.96 517.48,401.16 517.15,400.95 516.81,400.91 516.47,399.81 516.14,400.81 515.80,400.05 515.36,400.50 514.92,400.55 514.48,400.55 514.04,399.76 513.61,399.58 513.17,399.38 512.73,399.81 512.29,399.68 511.85,400.72 511.41,399.47 510.97,399.72 510.53,400.02 510.09,399.90 509.66,400.55 509.22,400.21 508.78,400.13 508.34,399.62 507.90,399.97 507.46,400.39 507.02,399.32 506.58,400.28 506.14,399.13 505.71,399.59 505.27,400.52 504.83,399.83 504.39,400.39 503.95,399.63 503.51,399.25 503.07,399.54 502.63,399.38 502.19,399.08 501.76,400.55 501.32,399.68 500.88,399.62 500.44,399.18 500.00,400.16 499.56,399.51 499.12,400.11 498.68,399.82 498.24,400.71 497.80,400.11 497.37,400.08 496.93,399.71 496.49,400.09 496.05,399.39 495.61,399.10 495.17,400.34 494.73,400.12 494.29,400.34 493.85,399.93 493.41,400.47 492.98,399.99 492.54,400.54 492.10,399.50 491.66,399.83 491.22,400.62 490.78,399.86 490.34,399.84 489.90,400.57 489.46,399.46 489.02,399.97 488.59,400.11 488.15,400.34 487.71,399.36 487.27,399.78 486.83,400.45 486.39,399.98 485.95,399.08 485.51,400.68 485.07,399.21 484.63,399.32 484.20,399.76 483.76,398.98 483.32,400.59 482.88,400.03 482.44,400.54 482.00,400.33 481.57,399.53 481.14,400.16 480.71,399.25 480.29,399.59 479.86,400.41 479.43,401.00 479.00,399.35 478.65,400.95 478.30,401.47 477.95,401.59 477.60,402.12 477.25,401.67 476.90,401.63 476.55,402.05 476.20,403.08 475.85,401.69 475.50,403.47 475.15,403.05 474.80,402.45 474.45,403.25 474.10,403.99 473.75,404.46 473.40,404.24 473.05,404.56 472.70,405.13 472.35,404.06 472.00,404.74 471.56,404.10 471.11,405.42 470.67,405.37 470.22,405.08 469.78,405.24 469.33,405.55 468.89,404.42 468.44,404.24 468.00,405.33 467.56,405.64 467.11,404.57 466.67,404.29 466.22,404.53 465.78,404.29 465.33,405.40 464.89,404.32 464.44,404.49 464.00,406.02 463.56,405.87 463.11,404.65 462.67,405.60 462.22,404.44 461.78,405.41 461.33,404.92 460.89,404.47 460.44,406.15 460.00,405.06 459.55,404.92 459.10,405.95 458.66,405.38 458.21,404.76 457.76,405.89 457.31,405.09 456.86,405.10 456.41,404.59 455.97,405.37 455.52,404.82 455.07,405.49 454.62,404.81 454.17,405.64 453.72,405.30 453.28,405.69 452.83,404.53 452.38,405.39 451.93,405.83 451.48,405.63 451.03,405.05 450.59,404.97 450.14,404.83 449.69,405.44 449.24,404.92 448.79,405.78 448.34,404.72 447.90,405.52 447.45,405.83 447.00,406.01 446.64,405.78 446.27,405.54 445.91,405.22 445.55,405.03 445.18,404.95 444.82,404.18 444.45,404.22 444.09,403.73 443.73,403.52 443.36,403.46 443.00,402.53 442.64,402.05 442.27,402.96 441.91,401.33 441.55,402.45 441.18,402.00 440.82,401.91 440.45,401.33 440.09,401.53 439.73,400.16 439.36,400.20 439.00,401.49 438.57,400.06 438.14,400.46 437.71,399.89 437.29,399.95 436.86,401.13 436.43,400.01 436.00,400.58 435.57,399.94 435.14,400.52 434.71,401.02 434.29,400.63 433.86,400.86 433.43,401.68 433.00,400.38 432.57,399.65 432.14,401.02 431.71,400.31 431.29,400.61 430.86,399.81 430.43,400.76 430.00,400.46 429.56,400.00 429.13,399.67 428.69,400.62 428.26,401.02 427.82,400.09 427.39,399.85 426.95,399.83 426.52,399.77 426.08,400.18 425.65,400.66 425.21,399.58 424.77,399.57 424.34,400.29 423.90,401.19 423.47,401.02 423.03,401.03 422.60,401.09 422.16,401.03 421.73,400.00 421.29,399.75 420.85,400.41 420.42,401.19 419.98,400.05 419.55,401.21 419.11,401.04 418.68,401.31 418.24,401.38 417.81,401.05 417.37,400.91 416.94,401.34 416.50,400.60 416.06,399.89 415.62,400.53 415.17,400.95 414.73,401.06 414.29,400.76 413.85,400.35 413.40,401.70 412.96,401.48 412.52,402.09 412.08,401.86 411.63,402.38 411.19,400.84 410.75,400.86 410.31,401.98 409.87,402.03 409.42,401.46 408.98,402.10 408.54,401.60 408.10,402.90 407.65,401.66 407.21,402.18 406.77,401.78 406.33,402.01 405.88,402.15 405.44,401.93 405.00,403.23 404.56,403.63 404.13,402.42 403.69,403.53 403.26,402.80 402.82,403.77 402.38,402.62 401.95,404.13 401.51,402.94 401.08,403.76 400.64,404.10 400.20,404.11 399.77,404.66 399.33,404.16 398.90,403.13 398.46,404.53 398.02,404.10 397.59,404.18 397.15,404.04 396.72,404.88 396.28,404.57 395.84,404.05 395.41,404.05 394.97,404.34 394.54,404.14 394.10,405.61 393.66,405.03 393.22,404.98 392.78,405.36 392.34,404.91 391.90,404.54 391.46,406.04 391.02,405.68 390.58,405.30 390.13,405.69 389.69,406.19 389.25,404.78 388.81,405.68 388.37,405.14 387.93,406.11 387.49,405.72 387.05,406.21 386.61,405.66 386.17,404.79 385.73,406.56 385.29,406.28 384.85,405.20 384.41,406.57 383.97,406.35 383.52,406.54 383.08,406.75 382.64,405.89 382.20,406.65 381.76,405.24 381.32,405.57 380.88,406.45 380.44,407.04 380.00,406.36 379.57,406.49 379.15,405.57 378.72,406.84 378.29,405.84 377.87,406.67 377.44,407.44 377.01,407.52 376.59,407.51 376.16,406.98 375.73,407.84 375.31,407.43 374.88,406.55 374.45,407.85 374.03,407.60 373.60,407.49 373.17,408.42 372.75,408.05 372.32,408.18 371.89,408.36 371.47,407.75 371.04,407.45 370.61,407.84 370.19,408.85 369.76,407.97 369.33,407.69 368.91,408.25 368.48,407.85 368.05,409.46 367.63,408.46 367.20,408.35 366.80,410.03 366.40,409.71 366.00,410.27 365.60,409.95 365.20,409.11 364.80,409.84 364.40,410.64 364.00,410.83 363.60,410.77 363.20,411.06 362.80,410.91 362.40,412.19 362.00,411.58 361.60,411.03 361.20,412.80 360.80,411.31 360.40,412.77 360.00,411.96 359.59,413.32 359.18,413.33 358.76,413.41 358.35,412.72 357.94,414.44 357.53,413.58 357.12,414.84 356.71,413.48 356.29,413.73 355.88,414.66 355.47,415.06 355.06,415.49 354.65,414.92 354.24,415.25 353.82,416.42 353.41,415.66 353.00,416.74 352.60,415.50 352.20,416.30 351.80,415.63 351.40,415.76 351.00,416.91 350.60,416.72 350.20,416.31 349.80,417.67 349.40,418.46 349.00,418.14 348.60,417.22 348.20,417.60 347.80,418.87 347.40,419.40 347.00,417.92 346.68,419.55 346.37,419.03 346.05,420.32 345.74,419.83 345.42,419.33 345.11,419.36 344.79,420.95 344.47,421.26 344.16,420.29 343.84,421.83 343.53,422.00 343.21,421.77 342.89,421.35 342.58,422.74 342.26,421.90 341.95,424.05 341.63,423.66 341.32,424.30 341.00,424.28 340.71,424.41 340.42,425.08 340.13,425.75 339.84,424.36 339.55,425.47 339.26,424.67 338.97,426.08 338.68,425.99 338.39,425.60 338.11,427.62 337.82,426.96 337.53,428.13 337.24,427.71 336.95,428.12 336.66,428.32 336.37,428.85 336.08,428.00 335.79,428.94 335.50,429.36 335.26,429.81 335.02,430.83 334.79,429.62 334.55,431.73 334.31,430.42 334.07,431.84 333.83,431.14 333.60,431.93 333.36,433.23 333.12,433.39 332.88,433.60 332.64,432.97 332.40,434.56 332.17,433.94 331.93,434.38 331.69,435.04 331.45,435.17 331.21,436.36 330.98,435.63 330.74,436.83 330.50,437.25 330.30,437.04 330.09,438.54 329.89,437.97 329.68,438.57 329.48,439.47 329.27,439.97 329.07,439.09 328.86,440.22 328.66,440.97 328.45,440.26 328.25,440.31 328.05,442.49 327.84,442.93 327.64,443.06 327.43,443.71 327.23,443.18 327.02,443.94 326.82,443.36 326.61,443.89 326.41,445.38 326.20,445.79 326.00,446.29 325.80,446.20 325.60,446.01 325.40,446.64 325.20,447.56 325.00,448.08 324.80,448.18 324.60,449.01 324.40,448.65 324.20,448.80 324.00,449.89 323.80,449.01 323.60,449.54 323.40,451.54 323.20,452.03 323.00,452.20 322.80,451.96 322.60,453.17 322.40,452.01 322.20,452.71 322.00,454.21 321.82,453.06 321.64,454.31 321.45,455.26 321.27,455.37 321.09,456.23 320.91,455.89 320.73,455.90 320.55,456.05 320.36,457.91 320.18,457.14 320.00,458.95 319.82,458.56 319.64,459.36 319.45,458.53 319.27,460.56 319.09,459.39 318.91,460.05 318.73,460.32 318.55,460.69 318.36,461.40 318.18,462.79 318.00,462.50 317.84,462.74 317.68,463.51 317.52,464.06 317.36,464.36 317.20,464.32 317.04,465.36 316.88,464.97 316.72,465.12 316.56,465.81 316.40,466.19 316.24,467.72 316.08,467.70 315.92,467.92 315.76,467.84 315.60,467.82 315.44,469.66 315.28,468.92 315.12,469.20 314.96,471.03 314.80,471.52 314.64,470.58 314.48,471.40 314.32,472.04 314.16,472.22 314.00,473.54 313.84,473.99 313.68,473.57 313.52,474.63 313.36,475.18 313.20,475.09 313.05,474.94 312.89,476.01 312.73,476.90 312.57,477.13 312.41,477.05 312.25,476.94 312.09,478.01 311.93,477.35 311.77,477.56 311.61,478.59 311.45,479.58 311.30,478.89 311.14,479.16 310.98,482.01 310.82,480.23 310.66,480.37 310.50,482.02 310.39,481.52 310.27,482.02 310.16,483.56 310.05,483.18 309.94,483.86 309.82,483.84 309.71,484.19 309.60,485.22 309.49,484.92 309.38,486.05 309.26,486.31 309.15,486.92 309.04,487.65 308.93,486.87 308.81,487.02 308.70,488.77 308.59,487.81 308.48,488.63 308.36,489.56 308.25,489.45 308.14,489.60 308.03,489.89 307.91,491.57 307.80,491.22 307.71,492.08 307.62,492.29 307.54,493.22 307.45,493.44 307.36,493.58 307.27,493.26 307.18,495.13 307.10,494.09 307.01,494.55 306.92,494.93 306.83,496.09 306.74,497.02 306.66,497.42 306.57,498.09 306.48,497.39 306.39,498.07 306.30,498.54 306.22,499.47 306.13,500.90 306.04,500.08 305.95,499.59 305.86,500.42 305.78,500.61 305.69,500.88 305.60,501.32 305.53,504.04 305.47,503.36 305.40,503.75 305.34,503.99 305.27,504.94 305.21,506.19 305.14,504.46 305.08,505.84 305.01,505.93 304.94,506.29 304.88,506.90 304.81,507.61 304.75,507.73 304.68,508.06 304.62,508.11 304.55,509.77 304.48,510.30 304.42,510.31 304.35,510.23 304.29,511.60 304.22,511.67 304.16,511.68 304.09,512.56 304.02,512.32 303.96,512.99 303.89,514.62 303.83,514.70 303.76,515.03 303.70,515.54 303.63,515.25 303.57,516.25 303.50,517.37 303.33,516.95 303.17,518.19 303.00,518.58 302.83,517.87 302.67,518.22 302.50,519.26 302.33,519.86 302.17,519.95 302.00,520.79 301.56,521.15 301.12,522.06 300.69,522.01 300.25,521.17 299.81,522.32 299.38,520.56 298.94,521.31 298.50,521.98 298.06,522.47 297.62,520.92 297.19,522.06 296.75,521.32 296.31,522.54 295.88,521.57 295.44,522.10 295.00,522.64 294.56,521.41 294.12,522.80 293.69,522.93 293.25,521.52 292.81,523.20 292.38,521.59 291.94,522.24 291.50,523.14 291.06,523.81 290.62,523.83 290.19,523.14 289.75,522.25 289.31,522.16 288.88,523.14 288.44,522.74 288.00,523.22 287.56,524.10 287.12,523.14 286.67,524.14 286.23,524.53 285.79,524.40 285.35,523.10 284.91,523.43 284.46,523.82 284.02,524.36 283.58,524.19 283.14,523.32 282.70,524.14 282.25,523.86 281.81,524.06 281.37,523.61 280.93,524.38 280.49,523.84 280.05,523.66 279.60,524.73 279.16,524.80 278.72,524.34 278.28,524.83 277.84,525.15 277.39,524.17 276.95,525.43 276.51,525.10 276.07,525.46 275.63,525.12 275.18,524.49 274.74,525.36 274.30,524.34 273.91,524.37 273.53,525.23 273.14,523.56 272.75,523.49 272.37,523.05 271.98,524.07 271.59,523.10 271.21,522.31 270.82,522.83 270.43,523.38 270.05,522.44 269.66,522.47 269.27,521.15 268.89,521.99 268.50,520.67 268.30,520.71 268.10,520.28 267.90,519.31 267.70,519.59 267.50,518.21 267.30,518.46 267.10,517.05 266.90,517.44 266.70,516.41 266.50,515.24 266.30,515.48 266.10,514.30 265.90,513.95 265.70,513.86 265.50,513.05 265.40,513.05 265.29,514.38 265.19,511.31 265.08,511.06 264.98,510.08 264.87,510.08 264.77,510.04 264.66,508.87 264.56,508.24 264.45,507.65 264.35,507.16 264.24,506.97 264.14,508.21 264.03,506.42 263.93,506.82 263.82,504.92 263.72,504.70 263.61,504.54 263.51,503.67 263.40,503.11 263.30,503.04 263.22,502.09 263.14,501.95 263.05,501.34 262.97,500.75 262.89,500.61 262.81,499.64 262.73,499.18 262.65,499.29 262.56,498.55 262.48,497.86 262.40,497.42 262.32,496.99 262.24,496.81 262.15,496.30 262.07,495.58 261.99,495.29 261.91,494.80 261.83,494.44 261.75,493.83 261.66,493.78 261.58,493.10 261.50,492.76 261.38,492.26 261.26,491.71 261.15,491.24 261.03,490.67 260.91,490.30 260.79,489.96 260.68,489.39 260.56,488.91 260.44,488.64 260.32,488.42 260.21,487.96 260.09,487.33 259.97,487.04 259.85,486.62 259.74,485.89 259.62,485.48 259.50,485.32 259.43,484.62 259.35,484.27 259.28,483.91 259.20,483.55 259.13,483.04 259.06,482.56 258.98,482.05 258.91,481.70 258.83,481.29 258.76,480.61 258.69,480.24 258.61,479.64 258.54,479.32 258.47,478.94 258.39,478.51 258.32,477.93 258.24,477.62 258.17,477.09 258.10,476.50 258.02,476.19 257.95,475.76 257.87,475.22 257.80,474.75 257.77,474.31 257.74,473.90 257.71,473.41 257.68,473.05 257.64,472.55 257.61,472.02 257.58,471.51 257.55,471.24 257.52,470.67 257.49,470.29 257.46,469.69 257.43,469.26 257.40,468.96 257.37,468.52 257.33,468.01 257.30,467.54 257.27,467.11 257.24,466.63 257.21,466.29 257.18,465.83 257.15,465.25 257.12,464.91 257.09,464.48 257.06,463.89 257.02,463.46 256.99,463.02 256.96,462.53 256.93,462.13 256.90,461.75 256.87,461.26 256.84,460.81 256.81,460.30 256.78,459.79 256.74,459.43 256.71,458.84 256.68,458.38 256.65,458.03 256.62,457.64 256.59,457.18 256.56,456.61 256.53,456.24 256.50,455.67 256.47,455.35 256.43,454.81 256.40,454.41 256.37,453.89 256.34,453.46 256.31,452.99 256.28,452.53 256.25,452.17 256.22,451.73 256.19,451.27 256.16,450.82 256.12,450.28 256.09,449.78 256.06,449.41 256.03,449.01 256.00,448.50 255.97,448.05 255.95,447.56 255.92,447.15 255.89,446.63 255.87,446.19 255.84,445.73 255.82,445.39 255.79,444.95 255.76,444.39 255.74,444.01 255.71,443.52 255.68,443.06 255.66,442.67 255.63,442.26 255.61,441.74 255.58,441.28 255.55,440.86 255.53,440.36 255.50,439.93 255.47,439.51 255.45,439.02 255.42,438.63 255.39,438.11 255.37,437.76 255.34,437.30 255.32,436.80 255.29,436.30 255.26,435.91 255.24,435.48 255.21,435.04 255.18,434.59 255.16,434.13 255.13,433.69 255.11,433.14 255.08,432.78 255.05,432.36 255.03,431.86 255.00,431.39 254.99,430.92 254.98,430.54 254.97,430.07 254.96,429.65 254.94,429.21 254.93,428.69 254.92,428.33 254.91,427.87 254.90,427.42 254.89,426.88 254.88,426.52 254.87,426.10 254.86,425.63 254.84,425.16 254.83,424.76 254.82,424.21 254.81,423.85 254.80,423.36 254.79,422.92 254.78,422.49 254.77,422.04 254.76,421.62 254.74,421.11 254.73,420.68 254.72,420.29 254.71,419.79 254.70,419.35 254.69,418.94 254.68,418.45 254.67,418.03 254.66,417.56 254.64,417.16 254.63,416.69 254.62,416.22 254.61,415.83 254.60,415.30 254.59,414.89 254.58,414.40 254.57,413.97 254.56,413.58 254.54,413.06 254.53,412.61 254.52,412.21 254.51,411.73 254.50,411.30 254.49,410.89 254.48,410.40 254.47,409.98 254.46,409.57 254.44,409.13 254.43,408.64 254.42,408.16 254.41,407.70 254.40,407.31 254.27,407.78 254.13,408.32 254.00,408.51 253.87,409.82 253.73,409.96 253.60,411.46 253.16,410.79 252.72,411.33 252.27,411.37 251.83,410.93 251.39,410.48 250.95,411.45 250.50,410.42 250.06,410.58 249.62,410.56 249.18,409.81 248.73,411.33 248.29,411.28 247.85,410.01 247.41,410.92 246.96,411.15 246.52,409.80 246.08,411.17 245.64,409.87 245.19,410.06 244.75,410.51 244.31,411.26 243.87,409.68 243.42,409.99 242.98,412.26 242.54,411.02 242.10,410.87 241.65,410.38 241.21,409.72 240.77,410.36 240.33,411.06 239.88,409.74 239.44,410.14 239.00,410.88 238.57,410.65 238.13,411.07 237.70,411.35 237.26,410.38 236.83,411.63 236.39,410.30 235.96,410.87 235.52,410.40 235.09,411.43 234.65,411.76 234.22,411.92 233.78,410.93 233.35,411.27 232.91,412.20 232.48,412.19 232.04,412.45 231.61,411.33 231.17,412.08 230.74,412.56 230.30,411.91 229.87,411.97 229.43,411.34 229.00,411.98 228.58,412.28 228.17,411.77 227.75,412.20 227.33,413.33 226.91,412.59 226.50,413.01 226.08,413.17 225.66,412.82 225.24,413.06 224.83,413.33 224.41,414.30 223.99,414.26 223.57,414.63 223.16,414.94 222.74,414.68 222.32,415.11 221.90,414.73 221.49,414.23 221.07,415.10 220.65,415.85 220.23,415.55 219.82,415.39 219.40,416.12 219.02,416.58 218.65,416.30 218.27,416.89 217.89,416.03 217.52,416.37 217.14,417.53 216.76,418.00 216.39,418.36 216.01,417.27 215.64,417.48 215.26,417.58 214.88,418.79 214.51,418.09 214.13,419.56 213.75,419.67 213.38,419.77 213.00,419.30 212.67,420.33 212.33,419.24 212.00,421.21 211.67,420.42 211.33,420.25 211.00,420.78 210.67,421.31 210.33,422.66 210.00,421.39 209.67,421.68 209.33,422.88 209.00,423.97 208.67,423.23 208.33,425.39 208.00,423.77 207.67,424.47 207.33,425.42 207.00,425.70 206.71,425.89 206.42,424.87 206.13,425.12 205.83,426.80 205.54,427.06 205.25,427.16 204.96,426.51 204.67,427.90 204.38,427.66 204.09,428.12 203.80,429.04 203.50,428.24 203.21,428.67 202.92,430.18 202.63,430.27 202.34,431.34 202.05,431.47 201.76,430.92 201.47,431.91 201.17,432.21 200.88,432.93 200.59,432.92 200.30,432.26 200.03,433.00 199.75,433.83 199.48,433.54 199.20,434.73 198.93,434.15 198.65,434.03 198.38,435.04 198.10,435.60 197.82,436.11 197.55,435.87 197.28,436.71 197.00,437.70 196.72,437.87 196.45,437.10 196.18,439.63 195.90,439.40 195.62,439.42 195.35,438.94 195.07,438.89 194.80,439.11 194.52,440.64 194.25,441.75 193.97,441.51 193.70,440.91 193.52,441.61 193.34,442.96 193.16,442.45 192.98,442.87 192.80,443.43 192.61,444.78 192.43,444.42 192.25,443.78 192.07,445.67 191.89,446.25 191.71,445.87 191.53,447.14 191.35,447.27 191.17,447.93 190.99,448.06 190.80,448.31 190.62,448.92 190.44,448.83 190.26,449.61 190.08,450.07 189.90,449.49 189.71,449.62 189.53,451.41 189.34,451.13 189.16,451.48 188.97,452.99 188.79,451.64 188.60,453.05 188.42,452.77 188.23,454.12 188.05,453.67 187.86,453.90 187.68,455.08 187.49,455.90 187.30,454.99 187.12,456.91 186.93,456.98 186.75,456.08 186.56,457.25 186.38,456.93 186.19,459.25 186.01,459.44 185.82,458.20 185.64,459.16 185.45,460.76 185.27,460.26 185.08,461.32 184.90,463.61 184.71,461.08 184.52,461.94 184.34,462.19 184.15,462.15 183.97,462.50 183.78,463.28 183.60,463.40 183.41,463.88 183.23,463.87 183.04,465.24 182.86,464.71 182.67,465.86 182.49,466.33 182.30,467.89 182.17,467.03 182.04,466.84 181.91,467.32 181.78,468.26 181.65,469.37 181.52,469.13 181.39,469.78 181.26,469.94 181.13,470.25 181.00,470.68 180.87,471.39 180.74,472.12 180.61,471.94 180.48,472.09 180.35,472.87 180.22,474.24 180.09,473.24 179.96,474.28 179.83,474.30 179.70,475.76 179.57,475.42 179.44,475.47 179.31,477.58 179.18,476.05 179.05,476.47 178.92,477.67 178.79,477.64 178.66,479.46 178.53,480.03 178.40,479.84 178.27,479.85 178.14,479.54 178.01,480.90 177.88,480.70 177.75,481.37 177.62,482.59 177.49,482.32 177.36,483.81 177.23,483.98 177.10,483.17 176.95,483.22 176.79,485.08 176.64,484.42 176.49,484.68 176.34,485.42 176.19,487.00 176.03,487.24 175.88,487.37 175.73,487.53 175.57,487.42 175.42,491.26 175.27,489.31 175.12,489.64 174.97,489.22 174.81,489.05 174.66,490.77 174.51,490.01 174.35,491.78 174.20,492.39 174.05,492.19 173.90,492.36 173.75,493.05 173.59,492.90 173.44,494.09 173.29,495.28 173.13,493.78 172.98,495.47 172.83,495.61 172.68,496.21 172.53,495.51 172.37,497.42 172.22,497.48 172.07,497.30 171.91,497.40 171.76,498.85 171.61,499.73 171.46,498.49 171.31,498.64 171.15,500.14 171.00,500.71 170.86,499.95 170.72,500.84 170.59,501.65 170.45,502.61 170.31,502.53 170.18,503.72 170.04,502.42 169.90,503.22 169.76,504.45 169.62,504.52 169.49,506.38 169.35,505.92 169.21,506.79 169.07,506.84 168.94,505.92 168.80,507.77 168.66,506.68 168.53,508.06 168.39,507.91 168.25,508.83 168.11,508.38 167.97,509.61 167.84,509.93 167.70,510.39 167.56,511.21 167.43,511.85 167.29,511.93 167.15,511.19 167.01,512.81 166.88,513.46 166.74,514.07 166.60,513.88 166.46,513.46 166.32,514.13 166.19,514.23 166.05,515.24 165.91,516.20 165.78,515.73 165.64,517.37 165.50,516.82 165.37,517.91 165.24,517.81 165.12,517.44 164.99,518.71 164.86,519.58 164.73,519.74 164.60,519.21 164.47,519.93 164.35,521.37 164.22,521.17 164.09,521.91 163.96,521.81 163.83,521.76 163.71,521.97 163.58,522.67 163.45,524.02 163.32,524.07 163.19,524.32 163.06,525.21 162.94,524.42 162.81,526.61 162.68,526.27 162.55,526.00 162.42,527.02 162.29,527.85 162.17,527.27 162.04,528.83 161.91,529.40 161.78,529.35 161.65,530.25 161.53,529.08 161.40,530.27 161.27,530.79 161.14,531.18 161.01,532.14 160.88,532.06 160.76,531.53 160.63,533.34 160.50,532.38 160.38,534.35 160.26,533.14 160.14,533.99 160.02,534.52 159.90,535.73 159.79,535.96 159.67,536.41 159.55,537.05 159.43,536.65 159.31,538.02 159.19,536.78 159.07,537.25 158.95,538.72 158.83,539.51 158.71,539.36 158.60,538.90 158.48,539.28 158.36,540.04 158.24,541.15 158.12,541.10 158.00,542.45 157.83,541.54 157.67,542.97 157.50,543.25 157.33,543.78 157.17,543.05 157.00,544.67 156.83,544.62 156.67,544.45 156.50,545.79 156.33,546.76 156.17,546.11 156.00,546.57 155.83,546.56 155.67,548.19 155.50,548.79 155.06,547.65 154.62,548.86 154.19,548.55 153.75,548.62 153.31,547.76 152.88,548.79 152.44,548.33 152.00,549.34 151.62,548.09 151.25,548.47 150.88,548.83 150.50,548.96 150.12,548.83 149.75,550.23 149.38,549.61 149.00,552.51 148.62,550.77 148.25,551.06 147.88,550.03 147.50,550.43 147.12,550.26 146.75,551.07 146.38,551.27 146.00,551.26 145.60,550.97 145.20,551.31 144.80,551.03 144.40,551.76 144.00,552.81 143.60,553.15 143.20,552.76 142.80,551.92 142.40,553.33 142.00,553.48 141.60,552.45 141.20,552.97 140.80,553.68 140.40,553.46 140.00,554.87 139.57,554.40 139.14,554.31 138.71,552.74 138.29,552.55 137.86,553.86 137.43,554.06 137.00,554.14 136.57,553.37 136.14,552.34 135.71,552.15 135.29,553.88 134.86,552.28 134.43,553.44 134.00,553.45 133.75,551.87 133.49,552.65 133.24,551.33 132.99,551.21 132.73,550.65 132.48,551.09 132.23,549.56 131.97,550.52 131.72,550.00 131.47,547.97 131.21,548.60 130.96,547.33 130.71,546.91 130.45,548.18 130.20,546.87 130.05,546.61 129.90,546.83 129.75,545.34 129.60,545.17 129.45,545.88 129.30,544.32 129.15,544.20 129.00,543.77 128.85,543.91 128.70,543.54 128.55,543.62 128.40,543.03 128.25,542.27 128.10,541.44 127.95,540.20 127.80,541.21 127.65,540.11 127.50,540.50 127.36,540.05 127.21,539.31 127.07,538.48 126.92,537.53 126.78,538.06 126.64,537.83 126.49,537.93 126.35,536.51 126.21,535.55 126.06,535.19 125.92,535.47 125.78,537.78 125.63,535.55 125.49,534.58 125.34,534.69 125.20,533.69 125.02,536.46 124.83,532.62 124.65,533.15 124.47,532.00 124.28,532.32 124.10,530.73 123.92,532.38 123.73,531.58 123.55,529.98 123.37,529.35 123.18,529.65 123.00,529.32 122.84,530.08 122.67,528.97 122.51,529.81 122.35,531.16 122.18,531.03 122.02,531.26 121.85,531.92 121.69,531.14 121.53,530.75 121.36,532.14 121.20,532.26 121.14,532.69 121.08,532.90 121.01,532.73 120.95,532.58 120.89,532.61 120.83,533.08 120.76,533.38 120.70,533.53 120.64,533.63 120.58,533.53 120.51,533.86 120.45,533.85 120.39,533.94 120.33,534.34 120.26,534.37 120.20,534.60 120.19,534.18 120.18,533.72 120.17,533.25 120.16,532.79 120.15,532.39 120.14,531.82 120.13,531.44 120.11,530.91 120.10,530.45 120.09,530.18 120.08,529.62 120.07,529.20 120.06,528.68 120.05,528.22 120.04,527.87 120.03,527.36 120.02,526.89 120.01,526.43 120.00,525.98 119.99,525.52 119.98,525.18 119.96,524.62 119.95,524.27 119.94,523.82 119.93,523.36 119.92,522.88 119.91,522.37 119.90,521.90 119.89,521.43 119.88,521.04 119.87,520.62 119.86,520.18 119.85,519.66 119.84,519.19 119.83,518.83 119.81,518.43 119.80,517.92 119.79,517.39 119.78,516.96 119.77,516.50 119.76,516.12 119.75,515.62 119.74,515.18 119.73,514.71 119.72,514.33 119.71,513.87 119.70,513.46 119.69,513.01 119.68,512.42 119.67,511.97 119.65,511.53 119.64,511.08 119.63,510.61 119.62,510.16 119.61,509.71 119.60,509.34 119.59,508.91 119.58,508.48 119.57,507.94 119.56,507.46 119.55,507.12 119.54,506.57 119.53,506.12 119.52,505.72 119.50,505.23 119.49,504.80 119.48,504.37 119.47,503.96 119.46,503.51 119.45,503.02 119.44,502.59 119.43,502.15 119.42,501.72 119.41,501.17 119.40,500.72 119.39,500.28 119.38,499.78 119.37,499.37 119.36,498.96 119.34,498.54 119.33,498.00 119.32,497.53 119.31,497.14 119.30,496.74 119.29,496.19 119.28,495.74 119.27,495.28 119.26,494.83 119.25,494.37 119.24,493.92 119.23,493.50 119.22,493.02 119.21,492.64 119.19,492.14 119.18,491.75 119.17,491.26 119.16,490.81 119.15,490.39 119.14,489.96 119.13,489.51 119.12,489.05 119.11,488.60 119.10,488.08 119.09,487.71 119.08,487.25 119.07,486.77 119.06,486.25 119.04,485.85 119.03,485.45 119.02,484.99 119.01,484.48 119.00,484.03 118.99,483.65 118.98,483.12 118.97,482.71 118.96,482.27 118.95,481.82 118.94,481.37 118.93,480.86 118.92,480.48 118.91,479.98 118.90,479.56 118.88,479.04 118.87,478.61 118.86,478.20 118.85,477.75 118.84,477.30 118.83,476.87 118.82,476.34 118.81,475.96 118.80,475.49 118.79,474.99 118.78,474.58 118.77,474.08 118.76,473.67 118.75,473.17 118.73,472.75 118.72,472.32 118.71,471.84 118.70,471.38 118.69,471.00 118.68,470.54 118.67,470.03 118.66,469.64 118.65,469.12 118.64,468.67 118.63,468.26 118.62,467.79 118.61,467.37 118.60,466.91 118.59,466.43 118.57,465.98 118.56,465.54 118.55,465.12 118.54,464.68 118.53,464.22 118.52,463.74 118.51,463.26 118.50,462.82 118.49,462.36 118.48,461.92 118.47,461.45 118.46,461.07 118.45,460.61 118.44,460.16 118.42,459.64 118.41,459.20 118.40,458.78 118.39,458.29 118.38,457.88 118.37,457.43 118.36,456.98 118.35,456.50 118.34,456.08 118.33,455.61 118.32,455.13 118.31,454.73 118.30,454.24 118.29,453.78 118.27,453.33 118.26,452.88 118.25,452.46 118.24,452.04 118.23,451.58 118.22,451.12 118.21,450.67 118.20,450.18 118.19,449.76 118.17,449.34 118.16,448.85 118.15,448.43 118.14,447.96 118.12,447.54 118.11,447.11 118.10,446.67 118.08,446.20 118.07,445.76 118.06,445.29 118.05,444.86 118.03,444.42 118.02,443.95 118.01,443.54 117.99,443.05 117.98,442.61 117.97,442.21 117.96,441.74 117.94,441.32 117.93,440.86 117.92,440.37 117.90,439.93 117.89,439.50 117.88,439.08 117.87,438.60 117.85,438.18 117.84,437.73 117.83,437.25 117.81,436.86 117.80,436.41 117.79,435.93 117.78,435.48 117.76,435.03 117.75,434.60 117.74,434.15 117.72,433.70 117.71,433.29 117.70,432.84 117.69,432.37 117.67,431.96 117.66,431.49 117.65,431.04 117.63,430.63 117.62,430.15 117.61,429.73 117.60,429.24 117.58,428.82 117.57,428.36 117.56,427.91 117.54,427.47 117.53,427.01 117.52,426.56 117.50,426.13 117.49,425.69 117.48,425.27 117.47,424.80 117.45,424.34 117.44,423.88 117.43,423.44 117.41,423.04 117.40,422.59 117.39,422.16 117.38,421.72 117.36,421.21 117.35,420.77 117.34,420.34 117.32,419.88 117.31,419.43 117.30,419.03 117.29,418.54 117.27,418.13 117.26,417.64 117.25,417.22 117.23,416.77 117.22,416.33 117.21,415.89 117.20,415.48 117.18,414.99 117.17,414.53 117.16,414.14 117.14,413.67 117.13,413.24 117.12,412.80 117.11,412.35 117.09,411.87 117.08,411.47 117.07,410.98 117.05,410.56 117.04,410.08 117.03,409.67 117.02,409.22 117.00,408.76 116.99,408.32 116.98,407.90 116.96,407.44 116.95,407.00 116.94,406.54 116.93,406.06 116.91,405.66 116.90,405.21 116.85,405.19 116.80,405.22 116.75,405.62 116.70,405.77 116.65,405.80 116.60,405.63 116.55,405.61 116.50,405.41 116.45,406.10 116.40,406.75 116.35,405.58 116.30,405.55 115.86,406.66 115.41,406.65 114.97,405.70 114.52,406.10 114.08,405.75 113.63,407.22 113.19,406.94 112.75,406.66 112.30,405.26 111.86,405.98 111.41,406.04 110.97,406.31 110.53,406.54 110.08,406.56 109.64,405.90 109.19,405.36 108.75,405.19 108.30,406.98 107.86,405.28 107.42,405.28 106.97,406.24 106.53,405.85 106.08,406.65 105.64,405.63 105.19,405.82 104.75,406.35 104.31,405.95 103.86,405.83 103.42,406.08 102.97,406.20 102.53,405.78 102.08,407.04 101.64,405.25 101.20,407.14 100.75,406.31 100.31,406.27 99.86,406.55 99.42,406.94 98.97,405.27 98.53,406.00 98.09,405.71 97.64,405.99 97.20,406.90 96.75,406.65 96.31,406.42 95.87,405.77 95.42,406.79 94.98,407.17 94.53,406.75 94.09,405.69 93.64,406.64 93.20,406.90" fill="#000"/>
<polyline points="93.20,399.80 93.64,399.80 94.09,399.80 94.53,399.80 94.98,399.80 95.42,399.80 95.87,399.80 96.31,399.80 96.75,399.80 97.20,399.80 97.64,399.80 98.09,399.80 98.53,399.80 98.97,399.80 99.42,399.80 99.86,399.80 100.31,399.80 100.75,399.80 101.20,399.80 101.64,399.80 102.08,399.80 102.53,399.80 102.97,399.80 103.42,399.80 103.86,399.80 104.31,399.80 104.75,399.80 105.19,399.80 105.64,399.80 106.08,399.80 106.53,399.80 106.97,399.80 107.42,399.80 107.86,399.80 108.30,399.80 108.75,399.80 109.19,399.80 109.64,399.80 110.08,399.80 110.53,399.80 110.97,399.80 111.41,399.80 111.86,399.80 112.30,399.80 112.75,399.80 113.19,399.80 113.63,399.80 114.08,399.80 114.52,399.80 114.97,399.80 115.41,399.80 115.86,399.80 116.30,399.80 116.35,400.23 116.40,400.67 116.45,401.10 116.50,401.53 116.55,401.97 116.60,402.40 116.65,402.83 116.70,403.27 116.75,403.70 116.80,404.13 116.85,404.57 116.90,405.00 116.91,405.45 116.93,405.89 116.94,406.34 116.95,406.78 116.96,407.23 116.98,407.67 116.99,408.12 117.00,408.56 117.02,409.01 117.03,409.46 117.04,409.90 117.05,410.35 117.07,410.79 117.08,411.24 117.09,411.68 117.11,412.13 117.12,412.57 117.13,413.02 117.14,413.47 117.16,413.91 117.17,414.36 117.18,414.80 117.20,415.25 117.21,415.69 117.22,416.14 117.23,416.58 117.25,417.03 117.26,417.48 117.27,417.92 117.29,418.37 117.30,418.81 117.31,419.26 117.32,419.70 117.34,420.15 117.35,420.59 117.36,421.04 117.38,421.49 117.39,421.93 117.40,422.38 117.41,422.82 117.43,423.27 117.44,423.71 117.45,424.16 117.47,424.60 117.48,425.05 117.49,425.50 117.50,425.94 117.52,426.39 117.53,426.83 117.54,427.28 117.56,427.72 117.57,428.17 117.58,428.61 117.60,429.06 117.61,429.50 117.62,429.95 117.63,430.40 117.65,430.84 117.66,431.29 117.67,431.73 117.69,432.18 117.70,432.62 117.71,433.07 117.72,433.51 117.74,433.96 117.75,434.41 117.76,434.85 117.78,435.30 117.79,435.74 117.80,436.19 117.81,436.63 117.83,437.08 117.84,437.52 117.85,437.97 117.87,438.42 117.88,438.86 117.89,439.31 117.90,439.75 117.92,440.20 117.93,440.64 117.94,441.09 117.96,441.53 117.97,441.98 117.98,442.43 117.99,442.87 118.01,443.32 118.02,443.76 118.03,444.21 118.05,444.65 118.06,445.10 118.07,445.54 118.08,445.99 118.10,446.44 118.11,446.88 118.12,447.33 118.14,447.77 118.15,448.22 118.16,448.66 118.17,449.11 118.19,449.55 118.20,450.00 118.21,450.45 118.22,450.90 118.23,451.35 118.24,451.80 118.25,452.25 118.26,452.70 118.27,453.14 118.29,453.59 118.30,454.04 118.31,454.49 118.32,454.94 118.33,455.39 118.34,455.84 118.35,456.29 118.36,456.74 118.37,457.19 118.38,457.64 118.39,458.09 118.40,458.53 118.41,458.98 118.42,459.43 118.44,459.88 118.45,460.33 118.46,460.78 118.47,461.23 118.48,461.68 118.49,462.13 118.50,462.58 118.51,463.03 118.52,463.48 118.53,463.93 118.54,464.37 118.55,464.82 118.56,465.27 118.57,465.72 118.59,466.17 118.60,466.62 118.61,467.07 118.62,467.52 118.63,467.97 118.64,468.42 118.65,468.87 118.66,469.32 118.67,469.76 118.68,470.21 118.69,470.66 118.70,471.11 118.71,471.56 118.72,472.01 118.73,472.46 118.75,472.91 118.76,473.36 118.77,473.81 118.78,474.26 118.79,474.71 118.80,475.16 118.81,475.60 118.82,476.05 118.83,476.50 118.84,476.95 118.85,477.40 118.86,477.85 118.87,478.30 118.88,478.75 118.90,479.20 118.91,479.65 118.92,480.10 118.93,480.55 118.94,480.99 118.95,481.44 118.96,481.89 118.97,482.34 118.98,482.79 118.99,483.24 119.00,483.69 119.01,484.14 119.02,484.59 119.03,485.04 119.04,485.49 119.06,485.94 119.07,486.39 119.08,486.83 119.09,487.28 119.10,487.73 119.11,488.18 119.12,488.63 119.13,489.08 119.14,489.53 119.15,489.98 119.16,490.43 119.17,490.88 119.18,491.33 119.19,491.78 119.21,492.22 119.22,492.67 119.23,493.12 119.24,493.57 119.25,494.02 119.26,494.47 119.27,494.92 119.28,495.37 119.29,495.82 119.30,496.27 119.31,496.72 119.32,497.17 119.33,497.61 119.34,498.06 119.36,498.51 119.37,498.96 119.38,499.41 119.39,499.86 119.40,500.31 119.41,500.76 119.42,501.21 119.43,501.66 119.44,502.11 119.45,502.56 119.46,503.01 119.47,503.45 119.48,503.90 119.49,504.35 119.50,504.80 119.52,505.25 119.53,505.70 119.54,506.15 119.55,506.60 119.56,507.05 119.57,507.50 119.58,507.95 119.59,508.40 119.60,508.84 119.61,509.29 119.62,509.74 119.63,510.19 119.64,510.64 119.65,511.09 119.67,511.54 119.68,511.99 119.69,512.44 119.70,512.89 119.71,513.34 119.72,513.79 119.73,514.24 119.74,514.68 119.75,515.13 119.76,515.58 119.77,516.03 119.78,516.48 119.79,516.93 119.80,517.38 119.81,517.83 119.83,518.28 119.84,518.73 119.85,519.18 119.86,519.63 119.87,520.07 119.88,520.52 119.89,520.97 119.90,521.42 119.91,521.87 119.92,522.32 119.93,522.77 119.94,523.22 119.95,523.67 119.96,524.12 119.98,524.57 119.99,525.02 120.00,525.47 120.01,525.91 120.02,526.36 120.03,526.81 120.04,527.26 120.05,527.71 120.06,528.16 120.07,528.61 120.08,529.06 120.09,529.51 120.10,529.96 120.11,530.41 120.13,530.86 120.14,531.30 120.15,531.75 120.16,532.20 120.17,532.65 120.18,533.10 120.19,533.55 120.20,534.00 120.26,533.56 120.33,533.12 120.39,532.69 120.45,532.25 120.51,531.81 120.58,531.38 120.64,530.94 120.70,530.50 120.76,530.06 120.83,529.62 120.89,529.19 120.95,528.75 121.01,528.31 121.08,527.88 121.14,527.44 121.20,527.00 121.36,526.59 121.53,526.18 121.69,525.77 121.85,525.36 122.02,524.95 122.18,524.55 122.35,524.14 122.51,523.73 122.67,523.32 122.84,522.91 123.00,522.50 123.18,522.88 123.37,523.25 123.55,523.62 123.73,524.00 123.92,524.38 124.10,524.75 124.28,525.12 124.47,525.50 124.65,525.88 124.83,526.25 125.02,526.62 125.20,527.00 125.34,527.41 125.49,527.81 125.63,528.22 125.78,528.62 125.92,529.03 126.06,529.44 126.21,529.84 126.35,530.25 126.49,530.66 126.64,531.06 126.78,531.47 126.92,531.88 127.07,532.28 127.21,532.69 127.36,533.09 127.50,533.50 127.65,533.92 127.80,534.33 127.95,534.75 128.10,535.17 128.25,535.58 128.40,536.00 128.55,536.42 128.70,536.83 128.85,537.25 129.00,537.67 129.15,538.08 129.30,538.50 129.45,538.92 129.60,539.33 129.75,539.75 129.90,540.17 130.05,540.58 130.20,541.00 130.45,541.35 130.71,541.71 130.96,542.06 131.21,542.41 131.47,542.77 131.72,543.12 131.97,543.47 132.23,543.83 132.48,544.18 132.73,544.53 132.99,544.89 133.24,545.24 133.49,545.59 133.75,545.95 134.00,546.30 134.43,546.39 134.86,546.49 135.29,546.58 135.71,546.67 136.14,546.76 136.57,546.86 137.00,546.95 137.43,547.04 137.86,547.14 138.29,547.23 138.71,547.32 139.14,547.41 139.57,547.51 140.00,547.60 140.40,547.46 140.80,547.32 141.20,547.18 141.60,547.04 142.00,546.90 142.40,546.76 142.80,546.62 143.20,546.48 143.60,546.34 144.00,546.20 144.40,546.06 144.80,545.92 145.20,545.78 145.60,545.64 146.00,545.50 146.38,545.29 146.75,545.09 147.12,544.88 147.50,544.67 147.88,544.47 148.25,544.26 148.62,544.06 149.00,543.85 149.38,543.64 149.75,543.44 150.12,543.23 150.50,543.03 150.88,542.82 151.25,542.61 151.62,542.41 152.00,542.20 152.44,542.24 152.88,542.28 153.31,542.31 153.75,542.35 154.19,542.39 154.62,542.42 155.06,542.46 155.50,542.50 155.67,542.10 155.83,541.70 156.00,541.30 156.17,540.90 156.33,540.50 156.50,540.10 156.67,539.70 156.83,539.30 157.00,538.90 157.17,538.50 157.33,538.10 157.50,537.70 157.67,537.30 157.83,536.90 158.00,536.50 158.12,536.08 158.24,535.65 158.36,535.23 158.48,534.80 158.60,534.38 158.71,533.96 158.83,533.53 158.95,533.11 159.07,532.69 159.19,532.26 159.31,531.84 159.43,531.41 159.55,530.99 159.67,530.57 159.79,530.14 159.90,529.72 160.02,529.30 160.14,528.87 160.26,528.45 160.38,528.02 160.50,527.60 160.63,527.17 160.76,526.74 160.88,526.31 161.01,525.88 161.14,525.45 161.27,525.02 161.40,524.58 161.53,524.15 161.65,523.72 161.78,523.29 161.91,522.86 162.04,522.43 162.17,522.00 162.29,521.57 162.42,521.14 162.55,520.71 162.68,520.28 162.81,519.85 162.94,519.42 163.06,518.98 163.19,518.55 163.32,518.12 163.45,517.69 163.58,517.26 163.71,516.83 163.83,516.40 163.96,515.97 164.09,515.54 164.22,515.11 164.35,514.68 164.47,514.25 164.60,513.82 164.73,513.38 164.86,512.95 164.99,512.52 165.12,512.09 165.24,511.66 165.37,511.23 165.50,510.80 165.64,510.38 165.78,509.96 165.91,509.54 166.05,509.12 166.19,508.70 166.32,508.28 166.46,507.86 166.60,507.44 166.74,507.02 166.88,506.60 167.01,506.18 167.15,505.76 167.29,505.34 167.43,504.92 167.56,504.50 167.70,504.08 167.84,503.66 167.97,503.24 168.11,502.82 168.25,502.40 168.39,501.98 168.53,501.56 168.66,501.14 168.80,500.72 168.94,500.30 169.07,499.88 169.21,499.46 169.35,499.04 169.49,498.62 169.62,498.20 169.76,497.78 169.90,497.36 170.04,496.94 170.18,496.52 170.31,496.10 170.45,495.68 170.59,495.26 170.72,494.84 170.86,494.42 171.00,494.00 171.15,493.58 171.31,493.16 171.46,492.74 171.61,492.32 171.76,491.90 171.91,491.48 172.07,491.06 172.22,490.64 172.37,490.22 172.53,489.80 172.68,489.38 172.83,488.96 172.98,488.54 173.13,488.12 173.29,487.70 173.44,487.28 173.59,486.86 173.75,486.44 173.90,486.02 174.05,485.60 174.20,485.18 174.35,484.76 174.51,484.34 174.66,483.92 174.81,483.50 174.97,483.08 175.12,482.66 175.27,482.24 175.42,481.82 175.57,481.40 175.73,480.98 175.88,480.56 176.03,480.14 176.19,479.72 176.34,479.30 176.49,478.88 176.64,478.46 176.79,478.04 176.95,477.62 177.10,477.20 177.23,476.78 177.36,476.36 177.49,475.94 177.62,475.52 177.75,475.10 177.88,474.68 178.01,474.26 178.14,473.84 178.27,473.42 178.40,473.00 178.53,472.58 178.66,472.16 178.79,471.74 178.92,471.32 179.05,470.90 179.18,470.48 179.31,470.06 179.44,469.64 179.57,469.22 179.70,468.80 179.83,468.38 179.96,467.96 180.09,467.54 180.22,467.12 180.35,466.70 180.48,466.28 180.61,465.86 180.74,465.44 180.87,465.02 181.00,464.60 181.13,464.18 181.26,463.76 181.39,463.34 181.52,462.92 181.65,462.50 181.78,462.08 181.91,461.66 182.04,461.24 182.17,460.82 182.30,460.40 182.49,459.99 182.67,459.58 182.86,459.17 183.04,458.76 183.23,458.35 183.41,457.94 183.60,457.53 183.78,457.12 183.97,456.71 184.15,456.30 184.34,455.89 184.52,455.48 184.71,455.07 184.90,454.66 185.08,454.25 185.27,453.84 185.45,453.43 185.64,453.02 185.82,452.61 186.01,452.20 186.19,451.80 186.38,451.39 186.56,450.98 186.75,450.57 186.93,450.16 187.12,449.75 187.30,449.34 187.49,448.93 187.68,448.52 187.86,448.11 188.05,447.70 188.23,447.29 188.42,446.88 188.60,446.47 188.79,446.06 188.97,445.65 189.16,445.24 189.34,444.83 189.53,444.42 189.71,444.01 189.90,443.60 190.08,443.20 190.26,442.80 190.44,442.40 190.62,442.00 190.80,441.60 190.99,441.20 191.17,440.80 191.35,440.40 191.53,440.00 191.71,439.60 191.89,439.20 192.07,438.80 192.25,438.40 192.43,438.00 192.61,437.60 192.80,437.20 192.98,436.80 193.16,436.40 193.34,436.00 193.52,435.60 193.70,435.20 193.97,434.85 194.25,434.50 194.52,434.15 194.80,433.80 195.07,433.45 195.35,433.10 195.62,432.75 195.90,432.40 196.18,432.05 196.45,431.70 196.72,431.35 197.00,431.00 197.28,430.65 197.55,430.30 197.82,429.95 198.10,429.60 198.38,429.25 198.65,428.90 198.93,428.55 199.20,428.20 199.48,427.85 199.75,427.50 200.03,427.15 200.30,426.80 200.59,426.47 200.88,426.14 201.17,425.81 201.47,425.48 201.76,425.15 202.05,424.82 202.34,424.49 202.63,424.16 202.92,423.83 203.21,423.50 203.50,423.17 203.80,422.83 204.09,422.50 204.38,422.17 204.67,421.84 204.96,421.51 205.25,421.18 205.54,420.85 205.83,420.52 206.13,420.19 206.42,419.86 206.71,419.53 207.00,419.20 207.33,418.91 207.67,418.62 208.00,418.33 208.33,418.04 208.67,417.76 209.00,417.47 209.33,417.18 209.67,416.89 210.00,416.60 210.33,416.31 210.67,416.02 211.00,415.73 211.33,415.44 211.67,415.16 212.00,414.87 212.33,414.58 212.67,414.29 213.00,414.00 213.38,413.79 213.75,413.59 214.13,413.38 214.51,413.18 214.88,412.97 215.26,412.76 215.64,412.56 216.01,412.35 216.39,412.15 216.76,411.94 217.14,411.74 217.52,411.53 217.89,411.32 218.27,411.12 218.65,410.91 219.02,410.71 219.40,410.50 219.82,410.35 220.23,410.20 220.65,410.04 221.07,409.89 221.49,409.74 221.90,409.59 222.32,409.43 222.74,409.28 223.16,409.13 223.57,408.98 223.99,408.83 224.41,408.67 224.83,408.52 225.24,408.37 225.66,408.22 226.08,408.07 226.50,407.91 226.91,407.76 227.33,407.61 227.75,407.46 228.17,407.30 228.58,407.15 229.00,407.00 229.43,406.92 229.87,406.84 230.30,406.77 230.74,406.69 231.17,406.61 231.61,406.53 232.04,406.45 232.48,406.37 232.91,406.30 233.35,406.22 233.78,406.14 234.22,406.06 234.65,405.98 235.09,405.90 235.52,405.83 235.96,405.75 236.39,405.67 236.83,405.59 237.26,405.51 237.70,405.43 238.13,405.36 238.57,405.28 239.00,405.20 239.44,405.18 239.88,405.16 240.33,405.15 240.77,405.13 241.21,405.11 241.65,405.09 242.10,405.07 242.54,405.05 242.98,405.04 243.42,405.02 243.87,405.00 244.31,404.98 244.75,404.96 245.19,404.95 245.64,404.93 246.08,404.91 246.52,404.89 246.96,404.87 247.41,404.85 247.85,404.84 248.29,404.82 248.73,404.80 249.18,404.78 249.62,404.76 250.06,404.75 250.50,404.73 250.95,404.71 251.39,404.69 251.83,404.67 252.27,404.65 252.72,404.64 253.16,404.62 253.60,404.60 253.73,405.00 253.87,405.40 254.00,405.80 254.13,406.20 254.27,406.60 254.40,407.00 254.41,407.44 254.42,407.89 254.43,408.33 254.44,408.78 254.46,409.22 254.47,409.67 254.48,410.11 254.49,410.56 254.50,411.00 254.51,411.44 254.52,411.89 254.53,412.33 254.54,412.78 254.56,413.22 254.57,413.67 254.58,414.11 254.59,414.56 254.60,415.00 254.61,415.44 254.62,415.89 254.63,416.33 254.64,416.78 254.66,417.22 254.67,417.67 254.68,418.11 254.69,418.56 254.70,419.00 254.71,419.44 254.72,419.89 254.73,420.33 254.74,420.78 254.76,421.22 254.77,421.67 254.78,422.11 254.79,422.56 254.80,423.00 254.81,423.44 254.82,423.89 254.83,424.33 254.84,424.78 254.86,425.22 254.87,425.67 254.88,426.11 254.89,426.56 254.90,427.00 254.91,427.44 254.92,427.89 254.93,428.33 254.94,428.78 254.96,429.22 254.97,429.67 254.98,430.11 254.99,430.56 255.00,431.00 255.03,431.45 255.05,431.89 255.08,432.34 255.11,432.79 255.13,433.24 255.16,433.68 255.18,434.13 255.21,434.58 255.24,435.03 255.26,435.47 255.29,435.92 255.32,436.37 255.34,436.82 255.37,437.26 255.39,437.71 255.42,438.16 255.45,438.61 255.47,439.05 255.50,439.50 255.53,439.95 255.55,440.39 255.58,440.84 255.61,441.29 255.63,441.74 255.66,442.18 255.68,442.63 255.71,443.08 255.74,443.53 255.76,443.97 255.79,444.42 255.82,444.87 255.84,445.32 255.87,445.76 255.89,446.21 255.92,446.66 255.95,447.11 255.97,447.55 256.00,448.00 256.03,448.45 256.06,448.90 256.09,449.34 256.12,449.79 256.16,450.24 256.19,450.69 256.22,451.14 256.25,451.59 256.28,452.03 256.31,452.48 256.34,452.93 256.37,453.38 256.40,453.83 256.43,454.28 256.47,454.72 256.50,455.17 256.53,455.62 256.56,456.07 256.59,456.52 256.62,456.97 256.65,457.41 256.68,457.86 256.71,458.31 256.74,458.76 256.78,459.21 256.81,459.66 256.84,460.10 256.87,460.55 256.90,461.00 256.93,461.45 256.96,461.90 256.99,462.34 257.02,462.79 257.06,463.24 257.09,463.69 257.12,464.14 257.15,464.59 257.18,465.03 257.21,465.48 257.24,465.93 257.27,466.38 257.30,466.83 257.33,467.28 257.37,467.72 257.40,468.17 257.43,468.62 257.46,469.07 257.49,469.52 257.52,469.97 257.55,470.41 257.58,470.86 257.61,471.31 257.64,471.76 257.68,472.21 257.71,472.66 257.74,473.10 257.77,473.55 257.80,474.00 257.87,474.43 257.95,474.87 258.02,475.30 258.10,475.74 258.17,476.17 258.24,476.61 258.32,477.04 258.39,477.48 258.47,477.91 258.54,478.35 258.61,478.78 258.69,479.22 258.76,479.65 258.83,480.09 258.91,480.52 258.98,480.96 259.06,481.39 259.13,481.83 259.20,482.26 259.28,482.70 259.35,483.13 259.43,483.57 259.50,484.00 259.62,484.41 259.74,484.82 259.85,485.24 259.97,485.65 260.09,486.06 260.21,486.47 260.32,486.88 260.44,487.29 260.56,487.71 260.68,488.12 260.79,488.53 260.91,488.94 261.03,489.35 261.15,489.76 261.26,490.18 261.38,490.59 261.50,491.00 261.58,491.43 261.66,491.86 261.75,492.30 261.83,492.73 261.91,493.16 261.99,493.59 262.07,494.02 262.15,494.45 262.24,494.89 262.32,495.32 262.40,495.75 262.48,496.18 262.56,496.61 262.65,497.05 262.73,497.48 262.81,497.91 262.89,498.34 262.97,498.77 263.05,499.20 263.14,499.64 263.22,500.07 263.30,500.50 263.40,500.93 263.51,501.36 263.61,501.79 263.72,502.21 263.82,502.64 263.93,503.07 264.03,503.50 264.14,503.93 264.24,504.36 264.35,504.79 264.45,505.21 264.56,505.64 264.66,506.07 264.77,506.50 264.87,506.93 264.98,507.36 265.08,507.79 265.19,508.21 265.29,508.64 265.40,509.07 265.50,509.50 265.70,509.90 265.90,510.30 266.10,510.70 266.30,511.10 266.50,511.50 266.70,511.90 266.90,512.30 267.10,512.70 267.30,513.10 267.50,513.50 267.70,513.90 267.90,514.30 268.10,514.70 268.30,515.10 268.50,515.50 268.89,515.70 269.27,515.90 269.66,516.10 270.05,516.30 270.43,516.50 270.82,516.70 271.21,516.90 271.59,517.10 271.98,517.30 272.37,517.50 272.75,517.70 273.14,517.90 273.53,518.10 273.91,518.30 274.30,518.50 274.74,518.45 275.18,518.40 275.63,518.35 276.07,518.31 276.51,518.26 276.95,518.21 277.39,518.16 277.84,518.11 278.28,518.06 278.72,518.02 279.16,517.97 279.60,517.92 280.05,517.87 280.49,517.82 280.93,517.77 281.37,517.73 281.81,517.68 282.25,517.63 282.70,517.58 283.14,517.53 283.58,517.48 284.02,517.44 284.46,517.39 284.91,517.34 285.35,517.29 285.79,517.24 286.23,517.19 286.67,517.15 287.12,517.10 287.56,517.05 288.00,517.00 288.44,516.92 288.88,516.84 289.31,516.76 289.75,516.67 290.19,516.59 290.62,516.51 291.06,516.43 291.50,516.35 291.94,516.27 292.38,516.19 292.81,516.11 293.25,516.02 293.69,515.94 294.12,515.86 294.56,515.78 295.00,515.70 295.44,515.62 295.88,515.54 296.31,515.46 296.75,515.38 297.19,515.29 297.62,515.21 298.06,515.13 298.50,515.05 298.94,514.97 299.38,514.89 299.81,514.81 300.25,514.73 300.69,514.64 301.12,514.56 301.56,514.48 302.00,514.40 302.17,514.02 302.33,513.64 302.50,513.27 302.67,512.89 302.83,512.51 303.00,512.13 303.17,511.76 303.33,511.38 303.50,511.00 303.57,510.56 303.63,510.12 303.70,509.69 303.76,509.25 303.83,508.81 303.89,508.38 303.96,507.94 304.02,507.50 304.09,507.06 304.16,506.62 304.22,506.19 304.29,505.75 304.35,505.31 304.42,504.88 304.48,504.44 304.55,504.00 304.62,503.56 304.68,503.12 304.75,502.69 304.81,502.25 304.88,501.81 304.94,501.38 305.01,500.94 305.08,500.50 305.14,500.06 305.21,499.62 305.27,499.19 305.34,498.75 305.40,498.31 305.47,497.88 305.53,497.44 305.60,497.00 305.69,496.56 305.78,496.12 305.86,495.68 305.95,495.24 306.04,494.80 306.13,494.36 306.22,493.92 306.30,493.48 306.39,493.04 306.48,492.60 306.57,492.16 306.66,491.72 306.74,491.28 306.83,490.84 306.92,490.40 307.01,489.96 307.10,489.52 307.18,489.08 307.27,488.64 307.36,488.20 307.45,487.76 307.54,487.32 307.62,486.88 307.71,486.44 307.80,486.00 307.91,485.58 308.03,485.17 308.14,484.75 308.25,484.33 308.36,483.92 308.48,483.50 308.59,483.08 308.70,482.67 308.81,482.25 308.93,481.83 309.04,481.42 309.15,481.00 309.26,480.58 309.38,480.17 309.49,479.75 309.60,479.33 309.71,478.92 309.82,478.50 309.94,478.08 310.05,477.67 310.16,477.25 310.27,476.83 310.39,476.42 310.50,476.00 310.66,475.59 310.82,475.18 310.98,474.77 311.14,474.36 311.30,473.95 311.45,473.55 311.61,473.14 311.77,472.73 311.93,472.32 312.09,471.91 312.25,471.50 312.41,471.09 312.57,470.68 312.73,470.27 312.89,469.86 313.05,469.45 313.20,469.05 313.36,468.64 313.52,468.23 313.68,467.82 313.84,467.41 314.00,467.00 314.16,466.58 314.32,466.16 314.48,465.74 314.64,465.32 314.80,464.90 314.96,464.48 315.12,464.06 315.28,463.64 315.44,463.22 315.60,462.80 315.76,462.38 315.92,461.96 316.08,461.54 316.24,461.12 316.40,460.70 316.56,460.28 316.72,459.86 316.88,459.44 317.04,459.02 317.20,458.60 317.36,458.18 317.52,457.76 317.68,457.34 317.84,456.92 318.00,456.50 318.18,456.09 318.36,455.68 318.55,455.27 318.73,454.86 318.91,454.45 319.09,454.05 319.27,453.64 319.45,453.23 319.64,452.82 319.82,452.41 320.00,452.00 320.18,451.59 320.36,451.18 320.55,450.77 320.73,450.36 320.91,449.95 321.09,449.55 321.27,449.14 321.45,448.73 321.64,448.32 321.82,447.91 322.00,447.50 322.20,447.10 322.40,446.70 322.60,446.30 322.80,445.90 323.00,445.50 323.20,445.10 323.40,444.70 323.60,444.30 323.80,443.90 324.00,443.50 324.20,443.10 324.40,442.70 324.60,442.30 324.80,441.90 325.00,441.50 325.20,441.10 325.40,440.70 325.60,440.30 325.80,439.90 326.00,439.50 326.20,439.11 326.41,438.73 326.61,438.34 326.82,437.95 327.02,437.57 327.23,437.18 327.43,436.80 327.64,436.41 327.84,436.02 328.05,435.64 328.25,435.25 328.45,434.86 328.66,434.48 328.86,434.09 329.07,433.70 329.27,433.32 329.48,432.93 329.68,432.55 329.89,432.16 330.09,431.77 330.30,431.39 330.50,431.00 330.74,430.64 330.98,430.29 331.21,429.93 331.45,429.57 331.69,429.21 331.93,428.86 332.17,428.50 332.40,428.14 332.64,427.79 332.88,427.43 333.12,427.07 333.36,426.71 333.60,426.36 333.83,426.00 334.07,425.64 334.31,425.29 334.55,424.93 334.79,424.57 335.02,424.21 335.26,423.86 335.50,423.50 335.79,423.18 336.08,422.87 336.37,422.55 336.66,422.24 336.95,421.92 337.24,421.61 337.53,421.29 337.82,420.97 338.11,420.66 338.39,420.34 338.68,420.03 338.97,419.71 339.26,419.39 339.55,419.08 339.84,418.76 340.13,418.45 340.42,418.13 340.71,417.82 341.00,417.50 341.32,417.21 341.63,416.92 341.95,416.63 342.26,416.34 342.58,416.05 342.89,415.76 343.21,415.47 343.53,415.18 343.84,414.89 344.16,414.61 344.47,414.32 344.79,414.03 345.11,413.74 345.42,413.45 345.74,413.16 346.05,412.87 346.37,412.58 346.68,412.29 347.00,412.00 347.40,411.83 347.80,411.67 348.20,411.50 348.60,411.33 349.00,411.17 349.40,411.00 349.80,410.83 350.20,410.67 350.60,410.50 351.00,410.33 351.40,410.17 351.80,410.00 352.20,409.83 352.60,409.67 353.00,409.50 353.41,409.32 353.82,409.15 354.24,408.97 354.65,408.79 355.06,408.62 355.47,408.44 355.88,408.26 356.29,408.09 356.71,407.91 357.12,407.74 357.53,407.56 357.94,407.38 358.35,407.21 358.76,407.03 359.18,406.85 359.59,406.68 360.00,406.50 360.40,406.33 360.80,406.17 361.20,406.00 361.60,405.83 362.00,405.67 362.40,405.50 362.80,405.33 363.20,405.17 363.60,405.00 364.00,404.83 364.40,404.67 364.80,404.50 365.20,404.33 365.60,404.17 366.00,404.00 366.40,403.83 366.80,403.67 367.20,403.50 367.63,403.40 368.05,403.31 368.48,403.21 368.91,403.11 369.33,403.02 369.76,402.92 370.19,402.82 370.61,402.73 371.04,402.63 371.47,402.53 371.89,402.44 372.32,402.34 372.75,402.24 373.17,402.15 373.60,402.05 374.03,401.95 374.45,401.86 374.88,401.76 375.31,401.66 375.73,401.57 376.16,401.47 376.59,401.37 377.01,401.28 377.44,401.18 377.87,401.08 378.29,400.99 378.72,400.89 379.15,400.79 379.57,400.70 380.00,400.60 380.44,400.56 380.88,400.51 381.32,400.47 381.76,400.43 382.20,400.38 382.64,400.34 383.08,400.29 383.52,400.25 383.97,400.21 384.41,400.16 384.85,400.12 385.29,400.07 385.73,400.03 386.17,399.99 386.61,399.94 387.05,399.90 387.49,399.86 387.93,399.81 388.37,399.77 388.81,399.73 389.25,399.68 389.69,399.64 390.13,399.59 390.58,399.55 391.02,399.51 391.46,399.46 391.90,399.42 392.34,399.38 392.78,399.33 393.22,399.29 393.66,399.24 394.10,399.20 394.54,399.12 394.97,399.04 395.41,398.96 395.84,398.88 396.28,398.80 396.72,398.72 397.15,398.64 397.59,398.56 398.02,398.48 398.46,398.40 398.90,398.32 399.33,398.24 399.77,398.16 400.20,398.08 400.64,398.00 401.08,397.92 401.51,397.84 401.95,397.76 402.38,397.68 402.82,397.60 403.26,397.52 403.69,397.44 404.13,397.36 404.56,397.28 405.00,397.20 405.44,397.13 405.88,397.05 406.33,396.98 406.77,396.91 407.21,396.83 407.65,396.76 408.10,396.69 408.54,396.62 408.98,396.54 409.42,396.47 409.87,396.40 410.31,396.32 410.75,396.25 411.19,396.18 411.63,396.10 412.08,396.03 412.52,395.96 412.96,395.88 413.40,395.81 413.85,395.74 414.29,395.67 414.73,395.59 415.17,395.52 415.62,395.45 416.06,395.37 416.50,395.30 416.94,395.29 417.37,395.28 417.81,395.27 418.24,395.26 418.68,395.25 419.11,395.24 419.55,395.23 419.98,395.22 420.42,395.21 420.85,395.20 421.29,395.19 421.73,395.18 422.16,395.17 422.60,395.16 423.03,395.15 423.47,395.15 423.90,395.14 424.34,395.13 424.77,395.12 425.21,395.11 425.65,395.10 426.08,395.09 426.52,395.08 426.95,395.07 427.39,395.06 427.82,395.05 428.26,395.04 428.69,395.03 429.13,395.02 429.56,395.01 430.00,395.00 430.43,395.02 430.86,395.04 431.29,395.06 431.71,395.08 432.14,395.10 432.57,395.11 433.00,395.13 433.43,395.15 433.86,395.17 434.29,395.19 434.71,395.21 435.14,395.23 435.57,395.25 436.00,395.27 436.43,395.29 436.86,395.30 437.29,395.32 437.71,395.34 438.14,395.36 438.57,395.38 439.00,395.40 439.36,395.59 439.73,395.78 440.09,395.97 440.45,396.16 440.82,396.35 441.18,396.55 441.55,396.74 441.91,396.93 442.27,397.12 442.64,397.31 443.00,397.50 443.36,397.71 443.73,397.92 444.09,398.13 444.45,398.34 444.82,398.55 445.18,398.75 445.55,398.96 445.91,399.17 446.27,399.38 446.64,399.59 447.00,399.80 447.45,399.80 447.90,399.80 448.34,399.80 448.79,399.80 449.24,399.80 449.69,399.80 450.14,399.80 450.59,399.80 451.03,399.80 451.48,399.80 451.93,399.80 452.38,399.80 452.83,399.80 453.28,399.80 453.72,399.80 454.17,399.80 454.62,399.80 455.07,399.80 455.52,399.80 455.97,399.80 456.41,399.80 456.86,399.80 457.31,399.80 457.76,399.80 458.21,399.80 458.66,399.80 459.10,399.80 459.55,399.80 460.00,399.80 460.44,399.78 460.89,399.76 461.33,399.74 461.78,399.73 462.22,399.71 462.67,399.69 463.11,399.67 463.56,399.65 464.00,399.63 464.44,399.61 464.89,399.60 465.33,399.58 465.78,399.56 466.22,399.54 466.67,399.52 467.11,399.50 467.56,399.49 468.00,399.47 468.44,399.45 468.89,399.43 469.33,399.41 469.78,399.39 470.22,399.37 470.67,399.36 471.11,399.34 471.56,399.32 472.00,399.30 472.35,399.09 472.70,398.88 473.05,398.67 473.40,398.46 473.75,398.25 474.10,398.04 474.45,397.83 474.80,397.62 475.15,397.41 475.50,397.20 475.85,396.94 476.20,396.68 476.55,396.42 476.90,396.16 477.25,395.90 477.60,395.64 477.95,395.38 478.30,395.12 478.65,394.86 479.00,394.60 479.43,394.54 479.86,394.49 480.29,394.43 480.71,394.37 481.14,394.31 481.57,394.26 482.00,394.20 482.44,394.21 482.88,394.22 483.32,394.23 483.76,394.24 484.20,394.25 484.63,394.26 485.07,394.27 485.51,394.28 485.95,394.29 486.39,394.30 486.83,394.31 487.27,394.32 487.71,394.33 488.15,394.34 488.59,394.35 489.02,394.36 489.46,394.37 489.90,394.38 490.34,394.39 490.78,394.40 491.22,394.40 491.66,394.41 492.10,394.42 492.54,394.43 492.98,394.44 493.41,394.45 493.85,394.46 494.29,394.47 494.73,394.48 495.17,394.49 495.61,394.50 496.05,394.51 496.49,394.52 496.93,394.53 497.37,394.54 497.80,394.55 498.24,394.56 498.68,394.57 499.12,394.58 499.56,394.59 500.00,394.60 500.44,394.62 500.88,394.63 501.32,394.65 501.76,394.67 502.19,394.68 502.63,394.70 503.07,394.72 503.51,394.73 503.95,394.75 504.39,394.77 504.83,394.78 505.27,394.80 505.71,394.82 506.14,394.83 506.58,394.85 507.02,394.87 507.46,394.88 507.90,394.90 508.34,394.92 508.78,394.93 509.22,394.95 509.66,394.97 510.09,394.98 510.53,395.00 510.97,395.02 511.41,395.03 511.85,395.05 512.29,395.07 512.73,395.08 513.17,395.10 513.61,395.12 514.04,395.13 514.48,395.15 514.92,395.17 515.36,395.18 515.80,395.20 516.14,395.45 516.47,395.71 516.81,395.96 517.15,396.22 517.48,396.47 517.82,396.73 518.15,396.98 518.49,397.24 518.83,397.49 519.16,397.75 519.50,398.00 519.83,398.29 520.15,398.58 520.48,398.88 520.80,399.17 521.12,399.46 521.45,399.75 521.77,400.04 522.10,400.33 522.42,400.62 522.75,400.92 523.07,401.21 523.40,401.50 523.84,401.43 524.28,401.37 524.72,401.30 525.16,401.23 525.60,401.17 526.04,401.10 526.48,401.03 526.92,400.97 527.36,400.90 527.80,400.83 528.24,400.77 528.68,400.70 529.12,400.63 529.56,400.57 530.00,400.50 530.43,400.46 530.87,400.41 531.30,400.37 531.74,400.33 532.17,400.28 532.61,400.24 533.04,400.20 533.48,400.15 533.91,400.11 534.35,400.07 534.78,400.02 535.22,399.98 535.65,399.93 536.09,399.89 536.52,399.85 536.96,399.80 537.39,399.76 537.83,399.72 538.26,399.67 538.70,399.63 539.13,399.59 539.57,399.54 540.00,399.50 540.43,399.43 540.86,399.36 541.29,399.29 541.71,399.21 542.14,399.14 542.57,399.07 543.00,399.00 543.43,398.93 543.86,398.86 544.29,398.79 544.71,398.71 545.14,398.64 545.57,398.57 546.00,398.50 546.43,398.43 546.86,398.36 547.29,398.29 547.71,398.21 548.14,398.14 548.57,398.07 549.00,398.00 549.43,397.93 549.86,397.86 550.29,397.79 550.71,397.71 551.14,397.64 551.57,397.57 552.00,397.50 552.44,397.47 552.89,397.43 553.33,397.40 553.78,397.37 554.22,397.33 554.67,397.30 555.11,397.27 555.56,397.23 556.00,397.20 556.33,396.90 556.67,396.60 557.00,396.30 557.33,396.00 557.67,395.70 558.00,395.40 558.33,395.10 558.67,394.80 559.00,394.50 559.36,394.24 559.71,393.99 560.07,393.73 560.43,393.47 560.79,393.21 561.14,392.96 561.50,392.70 561.94,392.71 562.37,392.72 562.81,392.73 563.24,392.74 563.68,392.75 564.11,392.76 564.55,392.77 564.98,392.78 565.42,392.79 565.85,392.80 566.29,392.81 566.73,392.82 567.16,392.83 567.60,392.84 568.03,392.85 568.47,392.85 568.90,392.86 569.34,392.87 569.77,392.88 570.21,392.89 570.65,392.90 571.08,392.91 571.52,392.92 571.95,392.93 572.39,392.94 572.82,392.95 573.26,392.96 573.69,392.97 574.13,392.98 574.56,392.99 575.00,393.00 575.43,392.99 575.87,392.99 576.30,392.98 576.74,392.97 577.17,392.97 577.61,392.96 578.04,392.95 578.48,392.94 578.91,392.94 579.34,392.93 579.78,392.92 580.21,392.92 580.65,392.91 581.08,392.90 581.52,392.90 581.95,392.89 582.39,392.88 582.82,392.88 583.26,392.87 583.69,392.86 584.12,392.86 584.56,392.85 584.99,392.84 585.43,392.83 585.86,392.83 586.30,392.82 586.73,392.81 587.17,392.81 587.60,392.80" fill="none" stroke="#000" stroke-width="1.6" stroke-linejoin="round"/>
<polyline points="256.6,458 257.8,474 259.5,484 261.5,491 263.3,500.5 265.5,509.5 267,513" fill="none" stroke="#000" stroke-width="2.6" stroke-linejoin="round"/>
<polyline points="259,484 261.5,491 263.3,500.5 265.5,509.5 267,513" fill="none" stroke="#000" stroke-width="3.6" stroke-linejoin="round"/>
<path d="M259.2,476 L261.6,478.5 L262.2,490 L260,486 Z" fill="#000"/>
<rect x="118.3" y="374.6" width="46.9" height="5.5" fill="#000"/>
<rect x="258.0" y="374.6" width="47.2" height="5.5" fill="#000"/>
<rect x="435.9" y="374.6" width="47.1" height="5.5" fill="#000"/>
<rect x="518.3" y="374.6" width="46.7" height="5.5" fill="#000"/>
<text x="115.97" y="363.10" font-size="26.14" font-weight="normal" fill="#000" textLength="54.76" lengthAdjust="spacingAndGlyphs">GLU</text>
<text x="257.60" y="363.40" font-size="27.00" font-weight="normal" fill="#000" textLength="52.21" lengthAdjust="spacingAndGlyphs">GAL</text>
<text x="433.48" y="362.80" font-size="25.65" font-weight="normal" fill="#000" textLength="54.52" lengthAdjust="spacingAndGlyphs">FRU</text>
<text x="522.00" y="362.80" font-size="25.65" font-weight="normal" fill="#000">ALL</text>
<line x1="53.9" y1="384.6" x2="72" y2="384.6" stroke="#000" stroke-width="2.6"/>
<path d="M69,378.4 L83.4,384.6 L69,390.8 Z" fill="#000"/>
<path d="M362.8,497.9 V548.5 H411.4" fill="none" stroke="#000" stroke-width="2.6"/>
<text x="368.59" y="528.30" font-size="23.57" font-weight="normal" fill="#000" textLength="72.20" lengthAdjust="spacingAndGlyphs">100 nA</text>
<text x="368.29" y="577.70" font-size="22.00" font-weight="normal" fill="#000" textLength="43.11" lengthAdjust="spacingAndGlyphs">10 s</text>
<line x1="133.5" y1="716.2" x2="133.5" y2="922.8" stroke="#000" stroke-width="2.5"/>
<line x1="121.0" y1="717.4" x2="133.5" y2="717.4" stroke="#000" stroke-width="2.3"/>
<text x="69.83" y="725.60" font-size="22.86" font-weight="normal" fill="#000" textLength="45.43" lengthAdjust="spacingAndGlyphs">7.16</text>
<line x1="121.0" y1="768.6" x2="133.5" y2="768.6" stroke="#000" stroke-width="2.3"/>
<text x="68.95" y="776.80" font-size="23.19" font-weight="normal" fill="#000" textLength="46.09" lengthAdjust="spacingAndGlyphs">7.14</text>
<line x1="121.0" y1="819.9" x2="133.5" y2="819.9" stroke="#000" stroke-width="2.3"/>
<text x="70.07" y="828.10" font-size="22.86" font-weight="normal" fill="#000" textLength="45.43" lengthAdjust="spacingAndGlyphs">7.12</text>
<line x1="121.0" y1="871.3" x2="133.5" y2="871.3" stroke="#000" stroke-width="2.3"/>
<text x="69.72" y="879.50" font-size="22.86" font-weight="normal" fill="#000" textLength="45.43" lengthAdjust="spacingAndGlyphs">7.10</text>
<line x1="121.0" y1="922.5" x2="133.5" y2="922.5" stroke="#000" stroke-width="2.3"/>
<text x="69.83" y="930.70" font-size="22.86" font-weight="normal" fill="#000" textLength="45.43" lengthAdjust="spacingAndGlyphs">7.08</text>
<line x1="132.9" y1="996.7" x2="132.9" y2="1200.6" stroke="#000" stroke-width="2.5"/>
<line x1="120.3" y1="1006.2" x2="132.9" y2="1006.2" stroke="#000" stroke-width="2.3"/>
<text x="68.53" y="1014.40" font-size="22.86" font-weight="normal" fill="#000" textLength="45.43" lengthAdjust="spacingAndGlyphs">7.06</text>
<line x1="120.3" y1="1057.6" x2="132.9" y2="1057.6" stroke="#000" stroke-width="2.3"/>
<text x="68.30" y="1065.80" font-size="22.86" font-weight="normal" fill="#000" textLength="45.43" lengthAdjust="spacingAndGlyphs">7.04</text>
<line x1="120.3" y1="1109.0" x2="132.9" y2="1109.0" stroke="#000" stroke-width="2.3"/>
<text x="68.77" y="1117.20" font-size="22.86" font-weight="normal" fill="#000" textLength="45.43" lengthAdjust="spacingAndGlyphs">7.02</text>
<line x1="120.3" y1="1160.3" x2="132.9" y2="1160.3" stroke="#000" stroke-width="2.3"/>
<text x="68.42" y="1168.50" font-size="22.86" font-weight="normal" fill="#000" textLength="45.43" lengthAdjust="spacingAndGlyphs">7.00</text>
<line x1="132.7" y1="1245.9" x2="132.7" y2="1453" stroke="#000" stroke-width="2.5"/>
<line x1="120.4" y1="1262.7" x2="132.7" y2="1262.7" stroke="#000" stroke-width="2.3"/>
<text x="68.20" y="1270.90" font-size="22.86" font-weight="normal" fill="#000" textLength="45.43" lengthAdjust="spacingAndGlyphs">7.04</text>
<line x1="120.4" y1="1314.7" x2="132.7" y2="1314.7" stroke="#000" stroke-width="2.3"/>
<text x="68.67" y="1322.90" font-size="22.86" font-weight="normal" fill="#000" textLength="45.43" lengthAdjust="spacingAndGlyphs">7.02</text>
<line x1="120.4" y1="1366.3" x2="132.7" y2="1366.3" stroke="#000" stroke-width="2.3"/>
<text x="68.32" y="1374.50" font-size="22.86" font-weight="normal" fill="#000" textLength="45.43" lengthAdjust="spacingAndGlyphs">7.00</text>
<line x1="120.4" y1="1417.7" x2="132.7" y2="1417.7" stroke="#000" stroke-width="2.3"/>
<text x="68.43" y="1425.90" font-size="22.86" font-weight="normal" fill="#000" textLength="45.43" lengthAdjust="spacingAndGlyphs">6.98</text>
<polyline points="133.2,810.9 135.6,820.9 137.6,806.7 139.2,820.5 140.5,813.6 143.0,825.7 145.1,807.9 147.4,824.2 149.8,810.1 152.0,821.3 153.5,813.3 156.1,823.7 157.6,811.2 159.7,825.2 161.7,814.5 163.8,823.6 165.7,810.5 168.3,824.0 170.2,816.6 172.5,825.1 174.4,810.6 177.0,799.2 179.6,797.7 181.3,788.3 183.0,796.2 185.4,776.0 187.7,791.3 189.9,771.5 191.6,790.0 193.4,771.9 194.8,785.8 196.8,767.6 198.2,782.4 199.7,769.8 201.9,779.2 203.1,777.1 205.4,758.6 206.8,760.2 208.7,765.8 210.6,751.1 212.2,767.7 214.7,764.9 216.4,752.3 218.3,762.3 220.7,744.6 222.8,753.8 224.6,740.2 225.9,761.4 228.4,735.4 230.5,750.5 232.5,736.6 234.5,753.4 235.9,735.7 237.9,743.7 239.9,732.8 241.9,749.6 243.4,746.9 245.6,733.9 246.9,742.1 248.5,748.3 249.9,722.7 252.1,733.1 254.0,738.4 255.9,727.9 257.2,741.6 259.0,730.9 260.5,735.5 262.1,751.6 263.9,756.5 266.1,780.7 268.4,777.9 270.1,800.4 272.2,796.7 274.1,817.4 276.3,805.1 277.9,822.1 280.4,806.2 282.5,805.5 284.0,816.9 286.0,823.6 288.2,810.6 290.5,818.3 292.3,806.2 293.9,820.8 296.0,812.0 298.2,822.9 300.1,808.2 301.6,818.6 303.6,805.1 305.9,803.6 308.4,820.2 311.0,823.4 312.7,811.2 315.0,821.4 317.2,809.3 319.7,824.3 321.7,810.2 324.1,821.2 326.0,815.8 327.6,804.2 330.1,819.9 331.7,809.2 333.3,810.1 334.6,818.4 335.8,818.4 337.5,820.7 339.1,805.5 340.3,821.4" fill="none" stroke="#000" stroke-width="3.1" stroke-linejoin="round" stroke-linecap="round"/>
<polyline points="133.2,826.3 135.7,828.5 137.4,816.1 139.7,826.9 141.8,811.0 143.4,833.8 145.9,813.5 148.3,823.9 150.0,822.5 152.5,809.3 154.1,815.7 156.4,827.1 158.5,809.2 160.4,821.5 161.6,812.6 164.1,822.1 166.1,807.4 167.8,819.8 169.5,805.6 171.7,817.7 173.3,818.0 175.2,805.7 177.0,816.4 178.2,807.3 179.8,819.5 182.2,801.8 184.5,802.8 186.7,820.5 188.5,800.9 191.1,821.4 193.4,796.9 195.0,810.3 197.0,800.2 199.5,810.6 201.8,804.7 203.5,813.4 205.4,801.6 207.3,817.5 209.8,802.4 212.0,814.0 213.7,810.8 215.6,800.2 216.9,814.8 218.8,802.6 220.3,801.4 221.7,800.9 223.0,809.1 224.5,803.7 226.7,821.5 228.1,812.2 230.1,800.5 232.2,814.7 234.7,802.2 236.6,806.1 238.8,805.8 240.1,802.3 242.2,806.2 244.8,790.4 246.0,813.2 248.5,800.5 249.9,815.6 252.1,796.8 253.3,820.5 254.6,796.5 256.0,813.5 258.4,805.9 260.7,811.6 262.9,799.6 265.0,812.1 266.6,810.4 268.5,823.2 270.4,815.4 272.9,826.8 274.8,816.8 277.0,819.3 278.7,830.0 281.2,812.6 283.6,817.4 286.2,817.1 287.7,835.9 290.1,824.8 292.0,814.4 293.9,826.7 295.9,813.5 297.2,829.0 299.6,816.6 301.7,810.8 303.0,830.2 305.2,816.8 306.6,829.9 308.3,812.2 310.5,827.0 312.3,816.5 313.6,826.3 315.7,831.9 317.4,813.0 319.1,822.0 320.6,818.6 322.0,827.4 324.6,813.6 326.7,830.6 328.7,817.8 331.0,832.5 332.7,822.8 334.1,829.8 336.2,817.6 337.9,812.9 339.7,832.2 340.3,817.3" fill="none" stroke="#000" stroke-width="3.1" stroke-linejoin="round" stroke-linecap="round"/>
<polyline points="133.2,809.6 134.6,827.1 136.6,816.2 139.0,822.9 140.6,817.7 142.8,825.1 144.6,812.5 147.1,829.5 149.1,831.0 151.7,809.2 153.2,828.9 154.5,813.3 156.2,811.1 158.5,826.1 160.5,822.2 163.0,830.4 165.6,817.1 168.1,820.8 169.5,809.6 171.5,824.8 173.7,811.9 176.2,829.9 177.6,819.0 179.7,830.8 180.9,824.3 183.2,845.6 185.2,830.6 186.6,826.9 187.9,847.4 189.9,846.3 191.8,834.0 193.7,848.6 196.3,821.1 198.8,849.1 200.5,843.8 201.8,832.0 203.4,849.7 205.7,835.5 207.3,846.1 208.7,834.6 210.7,834.5 212.9,839.3 214.3,840.6 215.6,851.0 217.0,840.2 218.6,848.7 220.3,835.5 222.3,850.6 224.7,835.6 226.4,848.0 228.5,835.7 230.7,851.8 232.2,833.9 234.2,848.3 236.8,839.2 239.4,841.4 241.2,836.4 243.5,850.2 245.2,840.5 247.5,841.6 249.3,857.6 251.6,837.2 252.9,853.1 254.3,837.1 256.4,852.4 257.9,843.3 259.5,847.8 261.7,849.6 263.3,852.9 265.0,830.6 267.3,825.7 268.7,852.4 269.9,841.0 272.3,827.8 274.7,829.2 276.9,823.8 279.0,841.7 281.4,821.7 283.4,839.7 284.7,821.5 286.4,834.3 288.3,826.8 290.7,837.1 292.7,828.9 294.0,823.1 296.1,842.0 298.5,814.4 299.8,836.3 302.3,823.9 303.6,833.2 305.8,827.9 307.5,835.9 309.4,820.5 310.8,836.4 312.3,831.4 313.9,824.3 316.2,835.0 318.6,827.4 320.9,836.6 322.5,836.8 324.2,824.2 326.0,842.6 327.5,822.8 329.2,822.0 331.2,839.7 332.8,827.4 334.2,835.7 335.5,822.5 337.4,839.2 339.3,825.7 340.3,835.9" fill="none" stroke="#000" stroke-width="3.1" stroke-linejoin="round" stroke-linecap="round"/>
<polyline points="133.2,829.3 134.8,806.8 136.4,824.7 137.8,811.0 140.2,818.8 142.6,809.7 144.0,825.2 145.6,806.7 147.7,822.8 149.9,807.8 151.7,820.9 153.6,808.0 155.8,828.8 157.6,811.5 160.2,828.8 161.8,813.3 163.1,823.4 164.7,814.4 166.0,808.6 168.5,822.1 170.6,821.9 172.0,818.2 173.3,811.7 175.7,822.5 177.4,803.5 178.9,814.3 180.7,814.4 182.1,791.7 183.4,802.7 184.6,797.9 185.8,806.0 187.9,783.3 189.6,797.1 191.1,785.7 193.0,802.0 195.1,785.7 196.6,796.1 198.0,780.1 200.1,780.8 201.7,792.3 204.1,777.5 206.0,786.6 208.6,772.8 210.0,784.2 211.4,775.5 212.8,782.4 215.4,768.4 217.5,793.5 219.6,775.3 221.3,789.0 222.7,771.9 223.9,782.6 226.2,783.4 228.1,771.9 230.7,780.3 231.9,766.7 234.3,787.8 235.7,765.9 238.3,781.0 239.7,764.8 241.2,782.7 243.1,771.9 245.0,771.8 246.4,779.4 248.6,780.7 251.1,771.2 252.4,781.3 253.9,764.6 256.1,785.9 257.4,786.2 259.6,775.5 261.8,782.1 264.3,784.5 266.2,802.9 267.9,792.9 269.3,813.9 270.8,799.5 272.3,815.6 274.2,817.1 275.4,808.5 277.7,814.5 280.3,801.2 281.7,821.7 283.8,807.4 286.2,815.9 287.7,801.8 290.2,818.4 292.4,803.1 294.7,822.7 296.3,801.9 298.4,805.0 300.8,822.3 303.2,801.0 305.2,805.8 306.5,818.2 308.6,807.8 310.4,820.7 312.8,810.2 314.5,821.6 316.6,806.2 318.5,820.9 319.9,805.9 322.1,817.7 324.0,801.4 325.9,820.4 327.7,805.5 328.9,823.0 330.3,809.6 332.2,806.4 334.0,815.5 335.8,802.4 337.3,804.2 339.3,822.1 340.3,818.3" fill="none" stroke="#00f282" stroke-width="3.1" stroke-linejoin="round" stroke-linecap="round"/>
<polyline points="133.2,817.6 135.6,823.7 137.7,805.1 139.2,817.7 140.6,817.3 142.3,807.6 144.6,821.3 146.8,803.8 148.6,821.8 150.7,804.5 153.1,815.6 154.4,820.6 156.3,812.0 158.6,817.4 160.9,809.8 162.4,810.8 164.3,820.9 166.0,822.2 167.6,806.0 169.9,828.2 171.9,822.4 173.9,819.9 175.5,803.4 177.6,809.2 178.9,789.9 181.5,804.7 183.4,787.5 184.8,794.7 186.7,784.4 188.9,796.0 191.2,788.6 193.7,772.3 195.9,787.2 197.7,784.6 199.3,761.1 201.5,770.7 203.3,782.0 205.3,763.5 207.7,776.2 209.0,760.3 210.3,770.5 211.8,753.9 213.6,765.2 215.2,759.2 217.7,750.6 219.5,747.3 221.2,764.8 222.9,738.2 225.0,764.0 226.8,759.2 228.2,748.5 230.1,743.7 232.3,757.0 234.6,742.8 237.2,750.2 239.0,738.6 241.3,750.8 243.4,731.9 244.7,748.4 246.9,744.5 249.5,751.3 251.1,735.4 252.8,728.5 254.5,742.1 256.7,736.8 259.1,731.5 260.7,738.8 262.4,747.9 264.8,763.3 267.2,779.8 269.8,805.8 272.1,798.8 274.3,801.3 275.9,813.9 277.5,800.7 279.2,817.7 281.4,811.5 283.4,822.8 285.2,806.6 287.0,823.5 289.0,800.0 291.2,819.2 293.2,804.1 295.7,809.0 298.2,812.9 300.1,822.8 301.7,821.4 303.6,805.5 304.9,821.1 306.8,803.1 308.2,804.8 310.6,817.2 312.3,806.5 313.9,825.4 315.7,807.7 317.3,816.5 318.6,818.8 320.5,822.4 322.4,809.2 323.9,819.5 325.6,808.1 327.3,818.9 329.7,815.4 331.4,803.5 333.1,821.4 334.6,806.7 336.9,821.2 339.0,810.1 340.3,822.7" fill="none" stroke="#0a0af2" stroke-width="3.1" stroke-linejoin="round" stroke-linecap="round"/>
<polyline points="133.2,811.6 135.3,823.0 137.9,818.4 139.2,812.5 141.1,824.2 142.9,814.4 144.4,822.1 146.8,811.1 148.8,829.4 150.8,815.7 152.4,812.2 154.4,817.5 156.6,824.2 158.1,814.8 159.7,823.2 161.3,814.3 163.3,821.2 165.1,810.6 167.0,825.9 169.0,830.7 171.3,824.6 173.6,836.7 175.6,848.0 177.9,829.6 179.7,855.6 181.3,833.3 182.9,841.9 185.1,859.7 186.8,861.0 188.5,851.3 190.6,871.4 192.3,854.2 194.5,869.2 196.5,862.7 198.4,872.9 200.5,865.3 202.6,877.2 204.3,864.0 206.4,867.5 207.9,864.8 209.5,864.3 211.5,881.6 212.9,868.1 214.9,889.1 217.3,887.2 219.7,869.9 221.4,881.9 222.8,874.9 224.4,889.1 226.5,870.5 228.5,885.2 230.5,871.5 232.8,888.4 234.0,889.3 236.5,871.9 238.4,884.8 240.2,871.4 242.4,888.5 243.9,891.0 246.4,877.5 248.5,872.1 250.8,873.6 252.2,877.7 253.6,891.6 256.0,880.9 257.4,886.7 259.6,874.7 260.8,884.8 262.4,880.6 263.9,862.2 266.3,875.4 268.0,861.2 269.5,879.5 270.7,856.3 272.3,856.3 274.7,869.0 276.7,862.8 277.9,859.0 279.2,869.6 280.8,860.4 283.1,873.1 284.6,854.0 285.8,870.6 288.4,855.5 290.9,870.6 293.0,860.0 294.5,851.2 296.5,868.4 298.0,849.5 300.1,857.5 301.4,863.0 303.6,855.5 306.1,849.6 308.4,858.2 309.9,868.7 311.3,857.5 313.8,863.3 315.7,852.4 317.9,865.5 320.4,841.9 322.0,863.4 324.6,857.9 326.3,870.6 328.3,853.3 330.6,866.7 332.6,868.8 334.8,850.6 337.2,864.4 339.7,851.5 340.3,862.6" fill="none" stroke="#ff0000" stroke-width="3.1" stroke-linejoin="round" stroke-linecap="round"/>
<polyline points="133.2,1094.9 135.8,1089.6 137.0,1097.4 138.4,1083.9 140.3,1102.6 142.8,1084.2 144.2,1090.1 145.9,1102.6 147.3,1085.9 149.0,1102.2 150.3,1083.4 152.3,1098.0 153.6,1082.2 156.2,1099.3 157.6,1077.1 159.2,1098.9 160.5,1087.0 162.7,1083.5 164.5,1097.0 166.4,1084.9 168.5,1102.6 169.8,1088.3 171.4,1088.7 173.2,1094.7 174.5,1082.7 175.8,1095.0 177.0,1064.0 179.2,1078.0 181.0,1069.7 183.4,1068.3 184.8,1073.4 186.6,1068.7 189.1,1066.8 190.6,1074.8 192.3,1061.7 194.9,1076.7 197.3,1062.4 199.7,1057.5 201.3,1056.8 203.8,1070.7 205.3,1073.3 207.3,1052.2 209.4,1071.3 211.7,1051.0 213.1,1067.6 215.5,1050.9 216.9,1051.5 219.1,1066.1 221.4,1046.7 222.6,1049.7 224.4,1066.3 226.2,1049.4 228.3,1059.2 229.9,1064.4 232.3,1050.3 234.9,1045.6 236.3,1054.8 238.8,1040.1 240.5,1043.1 242.5,1067.0 244.3,1038.9 246.4,1045.5 247.9,1045.5 250.2,1039.9 252.0,1040.4 253.9,1053.1 256.5,1056.2 257.9,1043.2 259.8,1055.3 262.3,1047.6 264.6,1069.1 267.2,1062.4 269.3,1065.4 271.6,1083.4 273.4,1065.0 275.0,1090.1 277.0,1072.4 278.9,1085.4 280.5,1082.7 282.3,1072.8 284.6,1081.9 287.2,1071.1 289.1,1079.7 291.2,1071.7 293.8,1071.2 295.7,1066.9 297.2,1070.9 299.0,1082.9 300.4,1070.4 302.0,1088.7 304.0,1071.1 306.4,1071.5 308.0,1078.6 310.4,1069.4 312.6,1082.7 313.9,1082.8 315.8,1068.6 317.9,1080.1 319.3,1068.4 321.8,1083.9 323.1,1083.7 324.7,1072.3 327.2,1085.9 329.3,1072.8 331.8,1084.2 333.6,1075.7 335.9,1084.5 337.6,1083.3 339.4,1067.5 340.3,1070.7" fill="none" stroke="#000" stroke-width="3.1" stroke-linejoin="round" stroke-linecap="round"/>
<polyline points="133.2,1089.2 135.3,1090.6 137.2,1106.3 139.1,1093.1 141.3,1105.8 143.2,1090.7 144.5,1088.8 146.3,1098.9 148.9,1089.1 150.3,1105.9 152.6,1102.1 154.2,1102.0 155.7,1105.3 156.9,1088.8 158.3,1101.6 160.5,1088.6 163.1,1103.7 164.6,1085.3 166.3,1086.0 167.6,1098.7 170.1,1086.1 171.7,1098.6 174.2,1091.1 176.2,1101.8 177.7,1097.5 179.9,1084.5 182.3,1097.0 184.8,1083.1 186.1,1085.5 187.7,1098.0 189.7,1084.0 191.1,1101.7 193.0,1083.1 194.4,1095.8 195.6,1081.7 197.3,1108.4 199.3,1088.2 201.9,1090.6 203.7,1099.4 205.2,1102.3 206.6,1089.7 208.7,1099.2 210.2,1094.7 211.8,1085.7 213.6,1106.0 215.4,1089.6 217.1,1098.8 218.7,1082.7 220.8,1101.6 222.7,1085.2 224.3,1094.1 226.1,1088.6 227.9,1094.2 229.4,1100.1 231.8,1081.4 233.3,1096.0 235.7,1085.3 237.6,1100.8 239.6,1085.9 242.1,1096.8 244.6,1095.5 246.7,1088.2 248.1,1094.4 249.9,1098.3 251.7,1084.2 253.1,1087.1 254.6,1097.0 257.1,1094.3 259.3,1103.4 260.8,1096.3 263.1,1108.6 264.6,1088.7 266.1,1108.6 267.6,1090.4 268.8,1099.9 270.8,1108.2 273.3,1101.0 275.7,1103.6 277.7,1095.5 280.2,1102.9 281.9,1095.0 283.8,1103.7 286.2,1091.1 288.1,1108.5 290.4,1102.2 291.9,1091.3 293.4,1101.1 295.3,1088.9 296.7,1090.2 298.8,1106.1 301.2,1091.0 303.5,1104.2 305.0,1095.0 307.1,1108.0 309.5,1090.3 311.9,1102.1 314.0,1089.9 315.4,1108.3 317.0,1094.9 318.4,1112.0 320.5,1095.0 321.8,1094.4 323.9,1101.2 325.3,1095.7 327.5,1108.5 329.4,1092.3 330.8,1103.2 333.3,1094.4 334.7,1106.8 337.0,1089.5 339.0,1108.3 340.3,1091.1" fill="none" stroke="#000" stroke-width="3.1" stroke-linejoin="round" stroke-linecap="round"/>
<polyline points="133.2,1099.9 135.6,1093.4 137.7,1094.4 139.0,1109.4 140.7,1093.7 142.3,1106.8 143.6,1090.1 145.4,1105.1 147.9,1087.3 149.7,1103.2 151.8,1095.0 153.7,1095.4 155.7,1089.9 157.5,1099.9 158.9,1100.4 161.4,1091.7 162.9,1101.7 164.6,1090.4 166.1,1108.4 168.3,1088.9 170.7,1106.9 172.0,1091.0 174.0,1108.0 175.4,1095.9 177.8,1106.0 179.6,1099.4 181.8,1116.8 183.9,1105.8 186.3,1103.8 188.3,1123.0 189.9,1118.5 192.3,1120.9 193.9,1109.0 195.7,1122.1 197.1,1105.0 198.6,1117.1 200.3,1106.3 202.8,1116.7 205.3,1109.7 207.0,1121.8 208.4,1105.7 209.9,1126.6 212.0,1104.1 213.3,1125.4 215.2,1100.3 217.1,1119.0 219.1,1100.2 220.5,1117.0 223.0,1108.0 225.5,1114.8 226.8,1120.7 229.3,1109.2 231.1,1128.0 232.5,1099.7 234.8,1106.9 237.0,1114.7 238.6,1101.7 239.9,1115.9 241.6,1106.1 243.0,1116.2 245.1,1094.1 247.2,1123.6 249.2,1121.4 250.8,1107.1 252.5,1120.7 254.2,1107.3 255.7,1113.5 257.1,1102.3 258.9,1117.2 260.1,1113.0 262.0,1116.8 263.7,1097.0 266.0,1116.3 268.6,1098.8 270.7,1101.3 272.6,1115.6 273.9,1097.3 275.8,1115.5 277.3,1098.1 278.7,1102.4 280.7,1116.6 282.4,1099.8 284.9,1109.6 286.1,1086.7 288.1,1116.5 290.3,1100.1 292.4,1111.6 294.9,1100.8 297.5,1114.8 299.1,1103.5 300.5,1109.4 302.6,1100.0 304.6,1096.6 306.5,1114.4 308.7,1100.6 310.2,1115.3 312.0,1115.8 314.0,1095.1 316.0,1112.8 318.4,1101.6 320.7,1098.4 322.2,1096.4 324.2,1106.1 326.4,1099.4 328.9,1106.8 331.2,1101.4 333.3,1098.6 335.7,1110.5 337.2,1094.6 339.1,1115.4 340.3,1096.7" fill="none" stroke="#000" stroke-width="3.1" stroke-linejoin="round" stroke-linecap="round"/>
<polyline points="133.2,1093.3 135.2,1102.5 137.5,1089.3 139.8,1101.1 141.5,1085.5 143.5,1105.3 145.0,1085.4 146.4,1082.8 148.3,1099.1 150.2,1101.5 152.8,1082.5 155.4,1086.1 157.3,1096.7 159.5,1091.5 161.0,1105.4 163.2,1092.5 165.6,1101.2 168.1,1090.1 169.5,1104.4 171.3,1093.3 173.4,1099.6 175.4,1086.9 176.7,1092.6 178.8,1073.8 181.1,1078.1 183.6,1075.8 184.9,1086.4 186.4,1071.8 188.9,1083.1 191.1,1088.8 193.4,1073.6 195.0,1082.1 196.5,1069.5 198.4,1086.1 200.2,1067.2 201.7,1067.6 203.6,1081.8 204.9,1080.5 207.5,1067.3 209.1,1082.6 210.3,1064.1 212.7,1075.6 214.2,1067.2 215.7,1068.6 217.7,1079.8 219.4,1078.8 221.2,1070.5 223.6,1075.5 225.3,1063.8 227.8,1082.3 229.2,1073.1 230.7,1072.9 233.0,1064.1 235.4,1078.2 237.6,1078.9 238.8,1063.8 241.0,1078.1 243.3,1080.4 244.7,1061.3 246.9,1060.5 249.5,1076.8 250.7,1065.1 253.0,1078.2 255.3,1075.0 256.7,1062.1 257.9,1066.6 259.8,1060.7 261.4,1079.2 263.6,1067.9 265.9,1096.1 267.3,1081.7 268.6,1091.4 271.0,1081.1 273.0,1094.0 274.5,1075.1 276.8,1089.3 279.1,1078.4 281.7,1093.0 283.1,1081.7 285.6,1088.6 287.5,1096.2 288.8,1077.0 290.1,1089.5 291.5,1073.7 293.7,1093.5 295.7,1095.9 297.0,1083.5 298.7,1071.1 301.1,1090.0 303.5,1080.2 305.6,1077.2 307.6,1091.8 309.8,1080.0 311.2,1097.8 313.7,1086.2 316.1,1083.4 317.9,1093.7 320.1,1085.2 322.2,1097.6 324.4,1097.3 326.3,1078.5 328.1,1098.6 330.7,1093.0 331.9,1085.4 333.5,1106.0 335.9,1081.4 338.1,1097.6 339.3,1082.2 340.3,1077.4" fill="none" stroke="#00f282" stroke-width="3.1" stroke-linejoin="round" stroke-linecap="round"/>
<polyline points="133.2,1099.1 135.7,1085.1 137.6,1097.6 139.8,1084.1 141.7,1084.3 143.3,1100.0 145.7,1083.7 147.0,1099.7 149.2,1086.9 150.5,1101.4 152.3,1091.1 154.3,1078.6 155.8,1087.1 157.1,1098.5 159.2,1087.7 161.1,1100.7 163.2,1090.1 165.0,1098.9 167.2,1083.2 169.4,1095.3 171.1,1087.3 173.5,1093.6 175.9,1070.1 177.7,1077.6 180.1,1058.2 181.8,1071.3 183.9,1057.0 185.9,1076.3 188.2,1061.9 190.4,1069.1 192.9,1054.7 194.6,1051.2 196.1,1065.0 197.3,1054.3 199.7,1067.5 201.4,1065.7 203.2,1052.9 204.8,1064.8 206.8,1058.1 209.2,1043.2 210.8,1054.9 213.0,1044.5 215.6,1058.3 218.0,1045.4 219.5,1049.1 221.1,1051.3 223.6,1040.6 225.7,1047.1 227.1,1038.6 229.0,1034.6 231.5,1035.2 233.7,1050.1 236.0,1025.1 238.5,1034.0 240.8,1043.4 243.3,1040.3 245.4,1028.7 248.0,1029.7 249.7,1048.2 251.9,1023.4 253.3,1043.3 255.9,1028.0 257.9,1026.8 260.4,1030.3 262.3,1048.4 264.2,1047.7 266.2,1065.5 267.9,1064.3 270.0,1083.4 271.8,1071.5 273.1,1087.1 274.7,1077.0 276.8,1079.3 278.7,1086.1 280.0,1070.5 281.4,1084.7 283.6,1074.4 285.1,1091.3 286.7,1085.0 288.5,1074.3 289.7,1081.4 291.6,1087.5 294.1,1078.4 295.5,1090.6 298.0,1082.5 299.6,1093.4 301.9,1077.8 303.7,1098.7 305.2,1087.2 306.5,1077.5 308.1,1094.6 309.4,1079.2 311.5,1087.2 313.6,1095.1 315.1,1092.3 317.5,1076.7 319.5,1081.9 321.7,1090.4 324.1,1078.4 325.4,1079.5 327.0,1076.8 328.6,1080.4 331.1,1096.6 333.5,1082.8 334.8,1091.6 336.2,1079.5 337.7,1078.0 339.0,1081.9 340.3,1084.8" fill="none" stroke="#0a0af2" stroke-width="3.1" stroke-linejoin="round" stroke-linecap="round"/>
<polyline points="133.2,1107.0 134.6,1094.3 136.1,1110.3 138.0,1084.9 140.1,1108.8 142.4,1090.0 143.7,1109.4 146.0,1094.5 148.6,1103.0 150.1,1095.5 151.6,1097.2 153.3,1109.5 155.5,1092.4 156.8,1099.5 158.6,1110.3 160.3,1099.3 162.8,1111.8 164.5,1109.7 166.5,1094.5 168.8,1093.1 170.1,1111.5 172.5,1097.9 174.4,1113.9 176.8,1106.9 178.6,1125.2 181.1,1121.4 183.6,1132.2 185.2,1121.3 186.5,1132.7 188.0,1130.2 189.9,1122.2 192.3,1134.2 193.8,1133.8 196.0,1126.7 197.5,1141.3 198.8,1129.8 200.3,1139.6 201.6,1126.0 203.4,1143.6 205.2,1126.5 207.5,1147.6 209.0,1127.2 211.3,1145.6 213.0,1129.3 215.4,1142.9 216.7,1131.9 218.7,1146.7 220.7,1145.6 222.2,1135.3 223.7,1150.3 226.0,1140.4 228.4,1136.6 230.1,1152.0 232.5,1134.5 234.3,1133.0 235.6,1147.0 237.1,1150.2 239.3,1155.1 241.6,1151.2 243.9,1147.3 245.4,1134.4 247.4,1157.2 248.7,1141.9 250.4,1140.0 251.7,1137.1 253.4,1139.7 255.6,1139.0 257.7,1150.3 259.2,1136.8 261.4,1131.1 263.4,1141.1 264.8,1127.5 266.9,1136.4 268.1,1129.9 269.4,1135.9 271.5,1122.5 273.5,1132.0 275.8,1120.8 277.9,1122.3 280.0,1134.4 282.1,1116.9 283.6,1141.5 285.5,1130.6 287.4,1130.7 288.7,1117.7 290.3,1132.2 291.8,1126.8 293.9,1133.2 295.2,1114.8 297.1,1129.5 298.8,1120.5 300.7,1128.7 302.1,1113.7 303.5,1129.4 305.2,1114.9 307.1,1124.9 308.3,1111.3 310.0,1119.1 311.3,1127.2 313.5,1114.7 314.9,1129.1 317.3,1116.3 318.7,1116.8 321.0,1126.9 323.3,1126.5 324.6,1117.9 326.9,1128.9 329.3,1111.4 331.3,1127.2 333.6,1113.9 335.3,1126.5 337.4,1127.4 339.4,1117.2 340.3,1129.6" fill="none" stroke="#ff0000" stroke-width="3.1" stroke-linejoin="round" stroke-linecap="round"/>
<polyline points="133.2,1343.0 134.6,1329.8 136.9,1335.2 139.3,1341.2 140.5,1335.8 141.8,1341.4 143.7,1332.7 146.0,1343.2 147.6,1342.2 149.3,1333.6 151.5,1341.1 152.7,1330.5 155.1,1342.8 157.6,1335.7 159.9,1347.7 162.5,1325.9 164.4,1339.9 165.9,1327.8 168.2,1326.4 170.8,1333.4 173.1,1338.2 174.4,1319.9 176.1,1332.6 177.6,1314.9 179.9,1327.1 181.3,1312.2 182.6,1329.4 184.5,1307.9 186.4,1328.1 188.2,1313.7 190.2,1325.2 192.3,1313.8 194.3,1326.9 196.1,1314.2 197.3,1328.2 199.5,1312.1 201.1,1313.8 202.4,1309.3 204.7,1321.2 206.2,1325.9 208.6,1311.7 210.3,1322.9 212.8,1314.0 215.4,1324.4 218.0,1309.9 220.3,1323.8 221.8,1308.8 224.0,1316.2 226.0,1306.2 228.2,1322.7 229.9,1302.1 231.9,1323.6 233.8,1317.5 235.5,1314.5 237.3,1306.0 239.5,1316.9 241.2,1306.1 243.0,1316.6 244.9,1298.0 246.4,1298.9 248.6,1311.6 250.8,1313.0 253.1,1307.0 255.0,1316.3 257.3,1300.9 259.3,1313.9 260.7,1311.8 262.2,1324.8 264.5,1315.9 266.5,1332.3 269.0,1326.2 270.3,1339.5 272.6,1324.3 274.5,1334.6 275.8,1340.9 277.5,1322.4 279.6,1327.5 281.3,1341.2 283.6,1321.3 285.6,1341.2 287.3,1335.9 289.9,1327.0 292.5,1337.1 294.1,1330.1 296.1,1322.6 297.6,1325.5 299.6,1335.0 301.5,1328.3 303.4,1336.9 305.0,1325.6 306.5,1340.8 307.7,1327.8 309.8,1343.1 311.8,1326.2 313.7,1345.4 315.3,1327.7 317.1,1338.1 319.4,1326.4 321.6,1340.2 324.0,1339.7 325.5,1325.0 326.9,1343.9 329.3,1338.1 331.2,1328.4 333.0,1345.1 335.4,1334.1 337.6,1338.7 339.9,1328.5 340.3,1348.8" fill="none" stroke="#000" stroke-width="3.1" stroke-linejoin="round" stroke-linecap="round"/>
<polyline points="133.2,1345.8 134.5,1334.2 135.9,1334.3 137.3,1349.6 139.4,1324.3 141.2,1330.1 143.8,1345.2 145.7,1337.2 147.1,1344.4 148.4,1336.3 150.6,1345.4 152.5,1330.6 154.5,1335.0 156.1,1352.4 157.6,1352.6 159.1,1340.1 161.4,1351.2 163.7,1349.6 166.0,1339.2 167.5,1352.7 170.0,1337.3 172.4,1354.2 173.8,1334.8 176.4,1355.0 178.7,1343.1 180.2,1353.8 181.5,1345.0 183.4,1359.1 185.5,1346.3 187.4,1354.3 190.0,1339.9 192.2,1354.0 193.6,1348.7 195.9,1357.2 198.0,1344.9 199.7,1360.4 202.3,1343.1 204.7,1359.1 207.3,1345.2 209.8,1361.0 211.5,1342.4 212.9,1342.6 214.5,1360.7 215.9,1341.0 217.7,1354.5 220.0,1348.9 222.0,1348.3 224.0,1353.4 225.5,1343.0 227.1,1355.0 229.0,1348.1 230.2,1356.9 232.7,1357.6 234.0,1341.4 236.2,1356.4 237.9,1340.5 240.2,1362.7 242.0,1349.2 244.1,1348.4 246.1,1358.8 247.6,1342.6 249.8,1353.3 251.7,1348.0 253.1,1343.3 254.4,1358.7 255.8,1362.5 257.4,1357.7 259.2,1342.6 261.0,1356.6 262.8,1359.4 264.1,1341.8 266.7,1351.8 268.6,1340.9 270.3,1353.5 271.5,1343.6 273.5,1358.4 275.6,1348.7 277.1,1355.7 278.5,1339.9 280.2,1360.8 282.8,1342.1 284.8,1367.8 286.6,1345.6 288.5,1338.1 290.5,1350.3 292.3,1341.6 294.0,1353.0 295.6,1357.3 297.7,1343.2 299.5,1350.0 301.4,1340.3 303.2,1350.5 305.3,1344.0 307.4,1353.1 309.0,1337.9 310.5,1357.7 312.0,1347.0 314.5,1353.0 316.3,1340.8 318.6,1351.2 320.9,1351.8 323.1,1345.8 324.3,1354.9 326.6,1352.8 328.7,1337.9 330.6,1357.6 333.0,1343.7 334.4,1356.2 336.4,1343.9 338.3,1357.2 339.8,1333.8 340.3,1353.4" fill="none" stroke="#000" stroke-width="3.1" stroke-linejoin="round" stroke-linecap="round"/>
<polyline points="133.2,1329.4 135.4,1334.7 136.8,1353.3 138.6,1339.5 140.8,1347.9 142.9,1339.5 145.0,1355.2 146.8,1350.7 148.7,1352.0 151.1,1334.9 152.5,1351.8 153.9,1350.8 155.1,1341.9 157.1,1341.7 158.5,1348.9 160.2,1357.6 162.8,1346.1 165.1,1334.2 166.5,1346.2 169.0,1332.8 170.7,1345.8 172.6,1336.5 175.0,1337.0 176.8,1352.0 178.2,1344.6 179.7,1359.4 181.3,1350.2 183.2,1363.0 184.5,1357.1 185.8,1370.2 188.1,1355.6 190.7,1370.9 192.0,1354.4 194.2,1367.2 195.9,1349.2 197.3,1363.8 199.1,1350.7 200.4,1369.9 202.7,1367.7 205.2,1365.4 206.5,1351.8 207.7,1372.0 210.0,1356.6 211.3,1369.8 213.4,1357.3 215.1,1353.1 216.5,1366.9 218.4,1349.7 220.2,1372.6 221.9,1354.3 224.1,1370.8 226.0,1367.8 227.6,1354.3 229.3,1368.4 230.8,1363.1 232.0,1357.4 233.9,1356.2 236.4,1372.4 238.7,1373.2 240.1,1360.8 242.0,1372.3 244.4,1355.5 245.6,1374.4 247.4,1373.9 249.4,1369.7 250.7,1353.7 253.1,1372.4 254.4,1357.0 256.5,1366.7 258.4,1351.4 259.9,1372.5 261.5,1363.6 262.9,1355.4 265.1,1366.9 267.3,1364.8 269.7,1367.2 271.1,1350.2 273.1,1363.5 275.5,1354.4 277.2,1360.7 279.0,1352.6 281.2,1365.8 283.1,1364.1 284.5,1353.3 287.0,1362.3 289.2,1359.4 291.7,1345.9 294.2,1363.5 296.1,1345.5 298.7,1363.9 300.2,1350.9 301.8,1363.1 303.8,1344.3 305.3,1347.4 306.6,1360.2 308.4,1369.6 310.4,1340.9 312.0,1361.3 313.4,1342.0 315.8,1366.7 317.9,1360.4 319.3,1365.2 321.5,1345.6 323.1,1362.8 325.2,1344.5 327.7,1358.2 330.2,1345.8 331.5,1358.3 332.8,1359.7 335.2,1360.4 336.6,1343.8 339.2,1358.9 340.3,1344.8" fill="none" stroke="#000" stroke-width="3.1" stroke-linejoin="round" stroke-linecap="round"/>
<polyline points="133.2,1349.6 135.4,1328.7 137.4,1341.1 139.4,1327.9 141.7,1348.8 142.9,1327.0 144.3,1345.1 146.4,1333.4 148.2,1343.1 149.7,1338.2 151.5,1345.0 152.9,1334.8 154.3,1331.9 156.2,1343.6 157.6,1325.9 159.4,1347.1 161.5,1338.0 163.6,1345.6 166.0,1328.3 168.4,1347.5 170.5,1334.0 172.0,1347.9 173.8,1333.1 176.3,1334.5 177.8,1344.7 180.3,1327.1 181.5,1332.3 182.7,1339.0 184.7,1329.3 186.0,1345.5 188.4,1331.1 190.0,1335.7 191.9,1341.8 193.3,1339.8 195.5,1334.5 197.2,1338.8 198.4,1329.2 200.0,1335.9 201.7,1325.4 203.5,1327.7 205.6,1328.4 207.1,1328.0 209.1,1336.7 210.4,1338.8 212.1,1327.8 214.3,1339.8 216.0,1322.3 217.6,1340.1 219.7,1320.0 222.0,1338.5 224.3,1319.1 226.4,1334.9 228.8,1325.6 231.2,1342.4 233.8,1329.6 235.1,1341.9 236.4,1330.0 238.2,1343.4 240.8,1325.7 243.3,1336.8 245.3,1327.5 247.5,1326.8 249.8,1336.9 251.4,1320.5 252.7,1337.4 254.2,1322.1 255.9,1344.0 257.7,1346.2 259.6,1340.7 262.1,1328.4 263.7,1336.4 266.1,1346.6 268.4,1334.9 270.9,1330.0 273.0,1346.5 274.4,1333.9 275.8,1351.9 278.0,1339.2 280.5,1349.3 282.9,1337.5 285.0,1349.7 286.6,1347.5 288.6,1332.0 290.0,1324.2 291.6,1347.3 293.3,1332.3 294.6,1343.1 296.3,1334.1 298.4,1343.8 300.1,1347.2 302.0,1336.1 303.5,1342.3 305.7,1330.9 307.9,1347.5 309.7,1330.4 311.4,1333.3 313.4,1348.9 316.0,1332.8 318.5,1351.1 321.1,1337.9 322.5,1349.6 324.2,1335.4 325.6,1349.7 327.9,1348.8 329.6,1336.0 332.1,1324.7 333.4,1329.9 335.7,1346.1 337.2,1336.3 339.1,1346.5 340.3,1334.9" fill="none" stroke="#00f282" stroke-width="3.1" stroke-linejoin="round" stroke-linecap="round"/>
<polyline points="133.2,1340.5 134.6,1329.0 137.1,1336.8 139.6,1327.8 142.1,1339.4 144.1,1331.9 146.1,1344.5 147.7,1328.6 149.7,1339.7 151.3,1327.4 153.2,1326.9 154.9,1344.5 156.3,1333.4 158.8,1330.3 161.4,1346.2 162.6,1332.1 164.2,1328.8 166.7,1339.6 168.8,1330.9 170.9,1339.6 172.2,1326.7 174.5,1335.4 176.6,1306.1 178.1,1321.0 180.5,1308.7 181.8,1316.0 183.0,1310.0 184.7,1315.7 187.1,1312.0 189.0,1317.2 190.6,1311.3 193.2,1311.1 195.4,1305.0 197.6,1317.3 199.6,1316.9 202.0,1303.0 204.3,1313.9 206.5,1300.6 208.3,1317.7 209.9,1302.2 211.4,1313.9 213.5,1300.7 215.5,1315.7 216.9,1301.6 218.8,1301.1 220.0,1312.8 222.5,1296.4 224.3,1292.5 225.8,1294.7 228.1,1297.8 230.1,1307.6 231.6,1298.4 234.0,1308.5 235.7,1298.1 237.3,1302.6 238.5,1296.6 240.3,1297.0 242.4,1306.6 243.9,1289.1 245.2,1309.0 247.2,1294.5 248.7,1285.7 251.0,1304.8 252.6,1302.9 253.8,1297.4 255.8,1288.7 258.2,1301.3 259.5,1296.2 261.1,1303.0 263.6,1308.4 265.7,1324.6 267.5,1330.5 268.8,1317.9 271.4,1337.5 273.4,1325.0 274.7,1341.2 277.2,1327.2 279.7,1339.2 282.3,1326.4 284.5,1332.6 286.6,1318.7 289.1,1326.5 291.6,1332.8 292.8,1318.5 294.4,1337.1 296.9,1324.3 299.2,1325.1 301.3,1323.2 303.8,1334.3 305.6,1334.9 308.1,1325.7 309.8,1329.0 311.7,1338.3 313.9,1328.8 315.2,1336.0 317.0,1329.2 318.9,1324.6 320.2,1336.8 321.7,1330.8 323.7,1340.3 326.1,1322.3 328.3,1322.3 330.0,1330.1 331.7,1326.7 334.2,1336.6 335.6,1328.3 337.3,1336.8 338.5,1322.5 340.3,1341.0" fill="none" stroke="#0a0af2" stroke-width="3.1" stroke-linejoin="round" stroke-linecap="round"/>
<polyline points="133.2,1343.4 135.6,1343.9 137.0,1344.3 139.1,1342.8 140.8,1352.1 142.7,1341.7 144.3,1353.6 146.5,1346.2 148.3,1355.2 149.7,1346.5 151.7,1352.3 154.1,1343.4 155.7,1356.0 156.9,1343.2 159.4,1352.2 161.8,1346.0 164.2,1346.7 166.4,1356.1 168.0,1346.9 169.9,1344.8 171.2,1352.9 173.7,1353.8 175.1,1378.1 177.3,1364.0 179.5,1369.3 180.8,1390.5 182.6,1374.0 183.9,1378.9 186.1,1389.5 187.4,1375.6 189.7,1389.7 191.4,1371.2 192.7,1374.9 194.9,1384.0 196.2,1389.2 197.6,1378.0 200.2,1377.3 202.5,1372.8 205.1,1388.4 206.7,1371.7 208.9,1374.5 210.2,1374.5 212.8,1371.5 214.1,1390.6 216.4,1374.2 218.8,1389.5 221.0,1372.2 222.5,1387.0 224.2,1378.0 226.3,1374.5 227.9,1391.4 229.7,1381.7 231.7,1390.8 234.2,1393.7 235.5,1377.1 236.9,1389.3 239.4,1395.0 240.8,1382.1 242.6,1395.2 244.1,1374.2 246.3,1387.2 248.4,1375.8 250.1,1392.5 251.8,1377.4 253.6,1391.2 255.1,1374.7 256.7,1397.7 258.2,1381.5 259.5,1389.5 261.9,1372.2 264.3,1381.7 265.7,1372.7 268.2,1386.4 270.3,1392.3 271.7,1377.9 273.6,1371.4 276.0,1368.8 277.6,1380.2 280.0,1372.8 282.0,1382.8 283.7,1373.3 286.1,1384.7 287.8,1370.0 290.3,1363.0 291.7,1379.6 293.6,1362.7 295.8,1389.4 297.9,1368.7 300.3,1361.6 302.8,1377.2 305.1,1363.3 306.5,1380.1 308.0,1370.0 309.6,1381.3 311.3,1366.6 312.9,1366.8 314.4,1379.5 315.7,1366.3 317.9,1378.0 319.3,1368.5 321.8,1362.1 324.0,1380.7 325.2,1373.9 327.5,1359.5 329.0,1358.4 331.6,1377.9 333.5,1364.9 335.8,1375.4 337.6,1354.9 339.4,1373.0 340.3,1372.9" fill="none" stroke="#ff0000" stroke-width="3.1" stroke-linejoin="round" stroke-linecap="round"/>
<line x1="390.50" y1="825.8" x2="155.0" y2="825.8" stroke="#a4a4a4" stroke-width="2.4" stroke-dasharray="3.1 8.35" stroke-linecap="round"/>
<line x1="388.80" y1="886.8" x2="237.0" y2="886.8" stroke="#a4a4a4" stroke-width="2.4" stroke-dasharray="3.1 8.35" stroke-linecap="round"/>
<rect x="372.4" y="835.9" width="4.2" height="42.6" fill="#000"/>
<path d="M374.5,825.9 L380.6,837.6999999999999 L368.4,837.6999999999999 Z M374.5,888.5 L380.6,877.2 L368.4,877.2 Z" fill="#000"/>
<line x1="389.60" y1="1104.7" x2="193.0" y2="1104.7" stroke="#a4a4a4" stroke-width="2.4" stroke-dasharray="3.1 8.35" stroke-linecap="round"/>
<line x1="388.00" y1="1146.4" x2="241.0" y2="1146.4" stroke="#a4a4a4" stroke-width="2.4" stroke-dasharray="3.1 8.35" stroke-linecap="round"/>
<rect x="371.7" y="1115.1" width="4.2" height="22.9" fill="#000"/>
<path d="M373.8,1105.1 L379.90000000000003,1116.8999999999999 L367.7,1116.8999999999999 Z M373.8,1148.0 L379.90000000000003,1136.7 L367.7,1136.7 Z" fill="#000"/>
<line x1="389.60" y1="1354.2" x2="172.0" y2="1354.2" stroke="#a4a4a4" stroke-width="2.4" stroke-dasharray="3.1 8.35" stroke-linecap="round"/>
<line x1="388.00" y1="1388.9" x2="233.0" y2="1388.9" stroke="#a4a4a4" stroke-width="2.4" stroke-dasharray="3.1 8.35" stroke-linecap="round"/>
<rect x="371.9" y="1364.5" width="4.2" height="14.5" fill="#000"/>
<path d="M374.0,1354.5 L380.1,1366.3 L367.9,1366.3 Z M374.0,1389.0 L380.1,1377.7 L367.9,1377.7 Z" fill="#000"/>
<text x="314.82" y="917.70" font-size="25.14" font-weight="normal" fill="#000" textLength="97.38" lengthAdjust="spacingAndGlyphs">-0.304%</text>
<text x="309.22" y="1184.00" font-size="24.29" font-weight="normal" fill="#000" textLength="97.69" lengthAdjust="spacingAndGlyphs">-0.229%</text>
<text x="308.81" y="1422.60" font-size="25.71" font-weight="normal" fill="#000" textLength="98.10" lengthAdjust="spacingAndGlyphs">-0.201%</text>
<text x="288.79" y="724.30" font-size="35.57" font-weight="normal" fill="#000" textLength="88.32" lengthAdjust="spacingAndGlyphs">0 mM</text>
<text x="299.32" y="1030.00" font-size="34.78" font-weight="normal" fill="#000" textLength="92.42" lengthAdjust="spacingAndGlyphs">5 mM</text>
<text x="295.23" y="1273.60" font-size="32.29" font-weight="normal" fill="#000" textLength="108.46" lengthAdjust="spacingAndGlyphs">25 mM</text>
<text x="193.64" y="654.80" font-size="35.57" font-weight="normal" fill="#000" textLength="72.23" lengthAdjust="spacingAndGlyphs">GLU</text>
<line x1="154.5" y1="855.0" x2="154.5" y2="949.7" stroke="#000" stroke-width="2.2"/>
<line x1="173.4" y1="857.0" x2="173.4" y2="949.7" stroke="#000" stroke-width="2.2"/>
<line x1="236.7" y1="906.0" x2="236.7" y2="949.7" stroke="#000" stroke-width="2.2"/>
<line x1="256.1" y1="906.0" x2="256.1" y2="949.7" stroke="#000" stroke-width="2.2"/>
<line x1="128.8" y1="938.8" x2="143.5" y2="938.8" stroke="#000" stroke-width="2.3"/>
<path d="M151.5,938.8 L141.0,934.1999999999999 L141.0,943.4 Z" fill="#000"/>
<line x1="201.2" y1="938.8" x2="185.5" y2="938.8" stroke="#000" stroke-width="2.3"/>
<path d="M177.5,938.8 L188.0,934.1999999999999 L188.0,943.4 Z" fill="#000"/>
<line x1="210.2" y1="938.8" x2="225.4" y2="938.8" stroke="#000" stroke-width="2.3"/>
<path d="M233.4,938.8 L222.9,934.1999999999999 L222.9,943.4 Z" fill="#000"/>
<line x1="283.3" y1="938.8" x2="267.4" y2="938.8" stroke="#000" stroke-width="2.3"/>
<path d="M259.4,938.8 L269.9,934.1999999999999 L269.9,943.4 Z" fill="#000"/>
<text x="138.23" y="974.10" font-size="22.75" font-weight="normal" fill="#000" textLength="53.31" lengthAdjust="spacingAndGlyphs">Base</text>
<text x="215.26" y="974.10" font-size="21.66" font-weight="normal" fill="#000" textLength="64.55" lengthAdjust="spacingAndGlyphs">Signal</text>
<path d="M161.3,1164.2 V1211.9 H203" fill="none" stroke="#000" stroke-width="2.4"/>
<text x="169.39" y="1196.70" font-size="23.14" font-weight="normal" fill="#000" textLength="64.72" lengthAdjust="spacingAndGlyphs">0.25%</text>
<text x="158.69" y="1238.00" font-size="22.86" font-weight="normal" fill="#000">100 ms</text>
<text x="-948.69" y="26.00" font-size="26.07" textLength="261.49" lengthAdjust="spacingAndGlyphs" transform="rotate(-90)">Fluorescence Intensity</text>
<text x="-899.72" y="50.40" font-size="20.28" textLength="160.23" lengthAdjust="spacingAndGlyphs" transform="rotate(-90)">[PMT Voltage (V)]</text>
<text x="502.41" y="651.70" font-size="23.86" font-weight="normal" fill="#000">200 mV, 200 ms</text>
<path d="M542.8,717.5 V665.7 H611.3 V717.5" fill="none" stroke="#0000ff" stroke-width="2.2"/>
<line x1="543.9" y1="681.4" x2="610.2" y2="681.4" stroke="#000" stroke-width="2.2"/>
<line x1="543.9" y1="697.9" x2="610.2" y2="697.9" stroke="#000" stroke-width="2.2"/>
<line x1="543.9" y1="714.4" x2="610.2" y2="714.4" stroke="#000" stroke-width="2.2"/>
<line x1="543.9" y1="730.6" x2="610.2" y2="730.6" stroke="#000" stroke-width="2.2"/>
<line x1="543.9" y1="705.9" x2="610.2" y2="705.9" stroke="#00ff00" stroke-width="2.2"/>
<path d="M508.5,718.7 H542.8 V746.3 H611.3 V718.7 H680.4" fill="none" stroke="#ff0000" stroke-width="2.2"/>
<text x="455.94" y="746.40" font-size="21.57" font-weight="normal" fill="#000" textLength="75.65" lengthAdjust="spacingAndGlyphs">-60 mV</text>
<text x="542.37" y="779.00" font-size="23.86" font-weight="normal" fill="#000" textLength="86.75" lengthAdjust="spacingAndGlyphs">-200 mV</text>
<path d="M579.7,816 L588.3,831 L571.2,831 Z" fill="#0000ff"/>
<rect x="571.2" y="843.2" width="15.8" height="15.8" fill="#00ff00"/>
<circle cx="579.6" cy="877.6" r="8.1" fill="#ff0000"/>
<text x="609.02" y="832.60" font-size="22.71" font-weight="normal" fill="#000" textLength="81.64" lengthAdjust="spacingAndGlyphs">200 mV</text>
<text x="609.25" y="858.90" font-size="22.71" font-weight="normal" fill="#000" textLength="55.67" lengthAdjust="spacingAndGlyphs">0 mV</text>
<text x="609.13" y="885.50" font-size="22.71" font-weight="normal" fill="#000" textLength="89.59" lengthAdjust="spacingAndGlyphs">-200 mV</text>
<line x1="538.2" y1="880.3" x2="538.2" y2="1374" stroke="#000" stroke-width="2.4"/>
<line x1="527.4" y1="938.4" x2="538.2" y2="938.4" stroke="#000" stroke-width="2.3"/>
<text x="494.70" y="945.00" font-size="17.14" font-weight="normal" fill="#000" textLength="27.91" lengthAdjust="spacingAndGlyphs">0.4</text>
<line x1="527.4" y1="1054.4" x2="538.2" y2="1054.4" stroke="#000" stroke-width="2.3"/>
<text x="494.68" y="1061.00" font-size="17.14" font-weight="normal" fill="#000" textLength="28.34" lengthAdjust="spacingAndGlyphs">0.2</text>
<line x1="527.4" y1="1170.2" x2="538.2" y2="1170.2" stroke="#000" stroke-width="2.3"/>
<text x="494.69" y="1176.80" font-size="17.14" font-weight="normal" fill="#000" textLength="28.01" lengthAdjust="spacingAndGlyphs">0.0</text>
<line x1="527.4" y1="1286.7" x2="538.2" y2="1286.7" stroke="#000" stroke-width="2.3"/>
<text x="487.88" y="1293.30" font-size="17.14" font-weight="normal" fill="#000" textLength="35.21" lengthAdjust="spacingAndGlyphs">-0.2</text>
<line x1="561.7" y1="878.6" x2="561.7" y2="1386.5" stroke="#000" stroke-width="2.9" stroke-dasharray="2.5 8.98" stroke-linecap="round"/>
<line x1="570.3" y1="1373.7" x2="701.5" y2="1373.7" stroke="#000" stroke-width="2.4"/>
<line x1="579.8" y1="1373.7" x2="579.8" y2="1383.2" stroke="#000" stroke-width="2.3"/>
<line x1="613.2" y1="1373.7" x2="613.2" y2="1383.2" stroke="#000" stroke-width="2.3"/>
<line x1="645.8" y1="1373.7" x2="645.8" y2="1383.2" stroke="#000" stroke-width="2.3"/>
<line x1="678.4" y1="1373.7" x2="678.4" y2="1383.2" stroke="#000" stroke-width="2.3"/>
<line x1="547.2" y1="1377.5" x2="547.2" y2="1383.2" stroke="#000" stroke-width="2.3"/>
<text x="540.79" y="1408.00" font-size="20.29" font-weight="normal" fill="#000" textLength="12.63" lengthAdjust="spacingAndGlyphs">0</text>
<text x="607.71" y="1408.00" font-size="20.58" font-weight="normal" fill="#000" textLength="9.59" lengthAdjust="spacingAndGlyphs">1</text>
<text x="660.12" y="1408.00" font-size="20.29" font-weight="normal" fill="#000" textLength="37.34" lengthAdjust="spacingAndGlyphs">100</text>
<text x="480.68" y="1436.40" font-size="24.97" font-weight="normal" fill="#000" textLength="232.93" lengthAdjust="spacingAndGlyphs">Concentration (mM)</text>
<text x="-1183.98" y="473.00" font-size="25.79" textLength="104.16" lengthAdjust="spacingAndGlyphs" transform="rotate(-90)">ΔF/F (%)</text>
<path d="M567.4,920.6 C585,920.6 596,921.5 605.5,928 C615.5,935 623,955 633,975 C641,992 649,1010 661,1018 C673,1025 690,1024.8 701.7,1024.8" fill="none" stroke="#0000ff" stroke-width="2.5"/>
<path d="M567.4,1030.6 C585,1030.6 598,1030.6 604,1031.5 C612,1033 612,1050 615,1075 C617,1095 619,1104 625,1106.5 C640,1108.2 680,1108.2 701.7,1108.2" fill="none" stroke="#00ff00" stroke-width="2.5"/>
<path d="M567.4,1349.2 C590,1349.2 600,1346 610,1338 C620,1328 626,1305 634,1294 C640,1287.5 650,1286.7 670,1286.7 L701.7,1286.7" fill="none" stroke="#ff0000" stroke-width="2.5"/>
<path d="M546.9,913.0 L554.6,926.4 L539.1,926.4 Z" fill="#0000ff"/>
<path d="M612.9,926.7 L620.6,940.1 L605.1,940.1 Z" fill="#0000ff"/>
<path d="M635.8,978.9 L643.5,992.3 L628.0,992.3 Z" fill="#0000ff"/>
<path d="M647.7,1007.0 L655.5,1020.4 L640.0,1020.4 Z" fill="#0000ff"/>
<path d="M659.7,986.4 L667.5,999.8 L652.0,999.8 Z" fill="#0000ff"/>
<path d="M670.0,1028.1 L677.8,1041.5 L662.2,1041.5 Z" fill="#0000ff"/>
<rect x="540.1" y="1023.8" width="13.6" height="13.6" fill="#00ff00"/>
<rect x="606.1" y="1044.3" width="13.6" height="13.6" fill="#00ff00"/>
<rect x="629.0" y="1112.7" width="13.6" height="13.6" fill="#00ff00"/>
<rect x="640.2" y="1079.2" width="13.6" height="13.6" fill="#00ff00"/>
<rect x="651.2" y="1107.6" width="13.6" height="13.6" fill="#00ff00"/>
<rect x="663.2" y="1107.6" width="13.6" height="13.6" fill="#00ff00"/>
<circle cx="546.9" cy="1350.0" r="6.3" fill="#ff0000"/>
<circle cx="612.9" cy="1335.2" r="6.3" fill="#ff0000"/>
<circle cx="635.8" cy="1292.9" r="6.3" fill="#ff0000"/>
<circle cx="647.0" cy="1295.3" r="6.3" fill="#ff0000"/>
<circle cx="658.7" cy="1281.6" r="6.3" fill="#ff0000"/>
<circle cx="670.0" cy="1287.7" r="6.3" fill="#ff0000"/>
<text x="608.58" y="1241.60" font-size="19.71" font-weight="normal" fill="#000" textLength="51.16" lengthAdjust="spacingAndGlyphs">5 mM</text>
<line x1="633.6" y1="1247.6" x2="633.6" y2="1273.4" stroke="#000" stroke-width="2.4"/>
<path d="M633.6,1281.4 L627.5,1269.9 L639.7,1269.9 Z" fill="#000"/>
<text x="543.68" y="1289.40" font-size="18.43" font-weight="normal" fill="#000" textLength="51.05" lengthAdjust="spacingAndGlyphs">0 mM</text>
<line x1="547.7" y1="1297.0" x2="547.7" y2="1322.0" stroke="#000" stroke-width="2.4"/>
<path d="M547.7,1330.0 L541.6,1318.5 L553.8000000000001,1318.5 Z" fill="#000"/>
<text x="649.97" y="1355.70" font-size="20.43" font-weight="normal" fill="#000" textLength="62.69" lengthAdjust="spacingAndGlyphs">25 mM</text>
<line x1="659.8" y1="1332.0" x2="659.8" y2="1310.6" stroke="#000" stroke-width="2.4"/>
<path d="M659.8,1302.6 L653.6999999999999,1314.1 L665.9,1314.1 Z" fill="#000"/>
</svg>
</body></html>
